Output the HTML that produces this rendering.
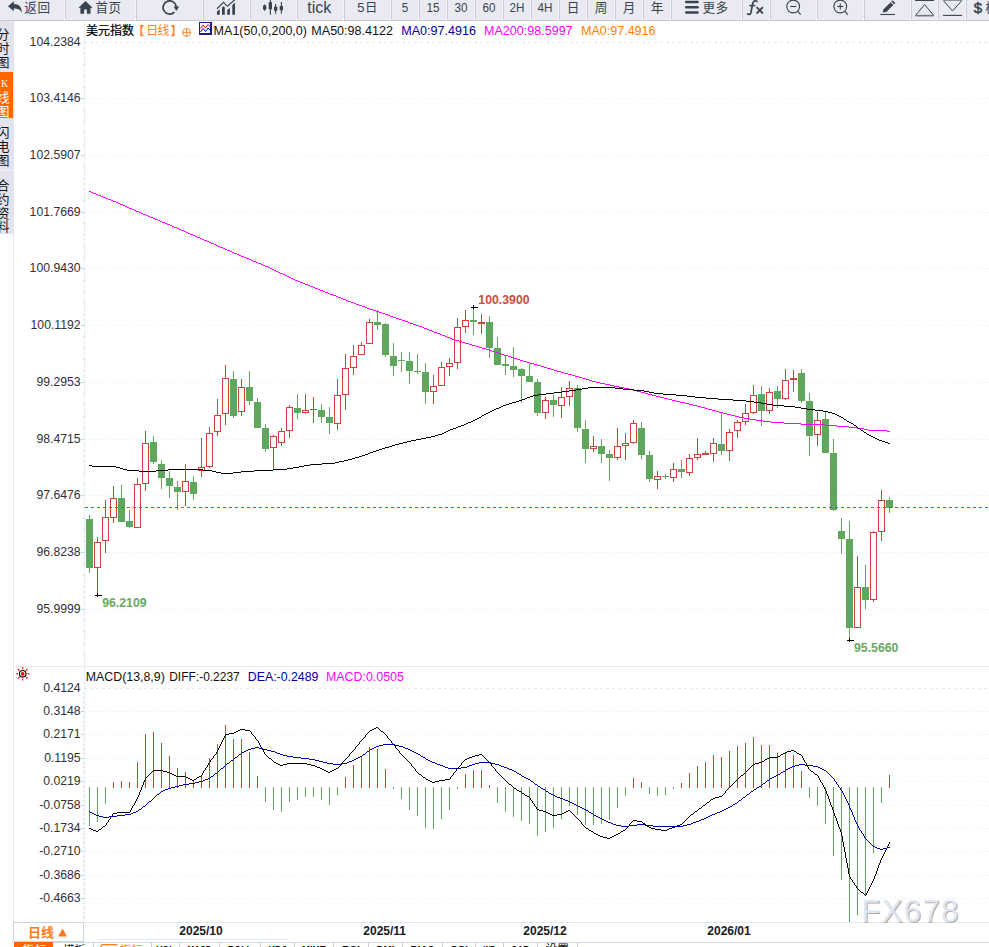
<!DOCTYPE html>
<html><head><meta charset="utf-8"><title>chart</title>
<style>
html,body{margin:0;padding:0;background:#fff;}
body{width:989px;height:947px;overflow:hidden;}
svg{display:block;font-family:"Liberation Sans","Noto Sans CJK SC",sans-serif;}
</style></head><body>
<svg width="989" height="947" viewBox="0 0 989 947">
<rect x="0" y="0" width="989" height="947" fill="#fff"/>
<rect x="0" y="0" width="989" height="20" fill="#e9eaf2"/>
<rect x="0" y="20" width="989" height="1" fill="#c8c9d3"/>
<rect x="64" y="0" width="1" height="21" fill="#f5f5fa"/>
<rect x="65" y="0" width="1" height="20" fill="#cbccd6"/>
<rect x="135" y="0" width="1" height="21" fill="#f5f5fa"/>
<rect x="136" y="0" width="1" height="20" fill="#cbccd6"/>
<rect x="202" y="0" width="1" height="21" fill="#f5f5fa"/>
<rect x="203" y="0" width="1" height="20" fill="#cbccd6"/>
<rect x="249" y="0" width="1" height="21" fill="#f5f5fa"/>
<rect x="250" y="0" width="1" height="20" fill="#cbccd6"/>
<rect x="296" y="0" width="1" height="21" fill="#f5f5fa"/>
<rect x="297" y="0" width="1" height="20" fill="#cbccd6"/>
<rect x="343" y="0" width="1" height="21" fill="#f5f5fa"/>
<rect x="344" y="0" width="1" height="20" fill="#cbccd6"/>
<rect x="390" y="0" width="1" height="21" fill="#f5f5fa"/>
<rect x="391" y="0" width="1" height="20" fill="#cbccd6"/>
<rect x="418" y="0" width="1" height="21" fill="#f5f5fa"/>
<rect x="419" y="0" width="1" height="20" fill="#cbccd6"/>
<rect x="446" y="0" width="1" height="21" fill="#f5f5fa"/>
<rect x="447" y="0" width="1" height="20" fill="#cbccd6"/>
<rect x="474" y="0" width="1" height="21" fill="#f5f5fa"/>
<rect x="475" y="0" width="1" height="20" fill="#cbccd6"/>
<rect x="502" y="0" width="1" height="21" fill="#f5f5fa"/>
<rect x="503" y="0" width="1" height="20" fill="#cbccd6"/>
<rect x="530" y="0" width="1" height="21" fill="#f5f5fa"/>
<rect x="531" y="0" width="1" height="20" fill="#cbccd6"/>
<rect x="558" y="0" width="1" height="21" fill="#f5f5fa"/>
<rect x="559" y="0" width="1" height="20" fill="#cbccd6"/>
<rect x="586" y="0" width="1" height="21" fill="#f5f5fa"/>
<rect x="587" y="0" width="1" height="20" fill="#cbccd6"/>
<rect x="614" y="0" width="1" height="21" fill="#f5f5fa"/>
<rect x="615" y="0" width="1" height="20" fill="#cbccd6"/>
<rect x="642" y="0" width="1" height="21" fill="#f5f5fa"/>
<rect x="643" y="0" width="1" height="20" fill="#cbccd6"/>
<rect x="670" y="0" width="1" height="21" fill="#f5f5fa"/>
<rect x="671" y="0" width="1" height="20" fill="#cbccd6"/>
<rect x="741" y="0" width="1" height="21" fill="#f5f5fa"/>
<rect x="742" y="0" width="1" height="20" fill="#cbccd6"/>
<rect x="769" y="0" width="1" height="21" fill="#f5f5fa"/>
<rect x="770" y="0" width="1" height="20" fill="#cbccd6"/>
<rect x="816" y="0" width="1" height="21" fill="#f5f5fa"/>
<rect x="817" y="0" width="1" height="20" fill="#cbccd6"/>
<rect x="863" y="0" width="1" height="21" fill="#f5f5fa"/>
<rect x="864" y="0" width="1" height="20" fill="#cbccd6"/>
<rect x="910" y="0" width="1" height="21" fill="#f5f5fa"/>
<rect x="911" y="0" width="1" height="20" fill="#cbccd6"/>
<rect x="937" y="0" width="1" height="21" fill="#f5f5fa"/>
<rect x="938" y="0" width="1" height="20" fill="#cbccd6"/>
<rect x="965" y="0" width="1" height="21" fill="#f5f5fa"/>
<rect x="966" y="0" width="1" height="20" fill="#cbccd6"/>
<path d="M8 6.3L13.8 1.2V4.1C18.5 4.1 22 6.8 21.8 12.9C20.6 9.6 17.8 8.5 13.8 8.5V11.3Z" fill="#3a4450"/><text x="24.30" y="12.20" font-size="12.6" fill="#3a4450" letter-spacing="0.7">返回</text><path d="M85.5 0.9L78.7 7.4L79.6 8.3L80.4 7.6V13.8H84.1V9.6H86.9V13.8H90.5V7.6L91.4 8.3L92.3 7.4Z" fill="#3a4450"/><text x="95.60" y="12.20" font-size="12.6" fill="#3a4450" letter-spacing="0.3">首页</text><path d="M174.4 12.1A6.6 6.6 0 1 1 176.3 7.2" fill="none" stroke="#3a4450" stroke-width="1.7"/><path d="M173.6 6.4H179.2L176.4 10.9Z" fill="#3a4450"/><path d="M217 11.4L219.7 9.3V14.7H217ZM222 7.2Q223.4 5.6 224.8 7.2V14.7H222ZM227.2 10L229.9 8V14.7H227.2ZM232.3 5L235 2.7V14.7H232.3Z" fill="#3a4450"/><path d="M217 8.8L223.5 2.4L227.4 6.3L234.8 -0.2" fill="none" stroke="#3a4450" stroke-width="1.2"/><path d="M263 6L264.6 4.2L266.3 6V9L264.6 11L263 9ZM268.7 2.3H272V9.3H268.7ZM274 6.7H277.3V10.7H274ZM279.7 6H283V10.3H279.7Z" fill="#3a4450"/><path d="M270.4 0V14.7M275.6 4V13.7M281.4 2V13.7" stroke="#3a4450" stroke-width="1.1" fill="none"/><text x="307.20" y="12.60" font-size="16" fill="#3a4450" text-anchor="start" font-weight="normal" >tick</text><text x="357.30" y="12.00" font-size="13" fill="#3a4450" text-anchor="start" font-weight="normal" >5</text><text x="365.00" y="12.10" font-size="12.4" fill="#3a4450">日</text><g transform="translate(405.0 12) scale(0.9 1)"><text x="0.00" y="0.00" font-size="13" fill="#3a4450" text-anchor="middle" font-weight="normal" >5</text></g><g transform="translate(433.0 12) scale(0.9 1)"><text x="0.00" y="0.00" font-size="13" fill="#3a4450" text-anchor="middle" font-weight="normal" >15</text></g><g transform="translate(461.0 12) scale(0.9 1)"><text x="0.00" y="0.00" font-size="13" fill="#3a4450" text-anchor="middle" font-weight="normal" >30</text></g><g transform="translate(489.0 12) scale(0.9 1)"><text x="0.00" y="0.00" font-size="13" fill="#3a4450" text-anchor="middle" font-weight="normal" >60</text></g><g transform="translate(517.0 12) scale(0.9 1)"><text x="0.00" y="0.00" font-size="13" fill="#3a4450" text-anchor="middle" font-weight="normal" >2H</text></g><g transform="translate(545.0 12) scale(0.9 1)"><text x="0.00" y="0.00" font-size="13" fill="#3a4450" text-anchor="middle" font-weight="normal" >4H</text></g><text x="566.70" y="12.20" font-size="12.6" fill="#3a4450">日</text><text x="594.70" y="12.20" font-size="12.6" fill="#3a4450">周</text><text x="622.70" y="12.20" font-size="12.6" fill="#3a4450">月</text><text x="650.70" y="12.20" font-size="12.6" fill="#3a4450">年</text><rect x="685" y="0.7" width="13.8" height="2.6" rx="1.3" fill="#3a4450"/><rect x="685" y="5.9" width="13.8" height="2.6" rx="1.3" fill="#3a4450"/><rect x="685" y="11.2" width="13.8" height="2.6" rx="1.3" fill="#3a4450"/><text x="702.60" y="12.40" font-size="12.6" fill="#3a4450" letter-spacing="0.4">更多</text><path d="M757 1.3C753.5 0 752.8 2.5 752.3 5.5L750.8 13C750.3 15 749 14.6 747.6 13.9" fill="none" stroke="#3a4450" stroke-width="1.7" stroke-linecap="round"/><path d="M749.3 5.6H755.3" stroke="#3a4450" stroke-width="1.5" fill="none"/><path d="M756.6 7.2L762.9 13.5M762.9 7.2L756.6 13.5" stroke="#3a4450" stroke-width="1.8" fill="none"/><circle cx="793.2" cy="6.5" r="6.4" fill="none" stroke="#3a4450" stroke-width="1.1"/><path d="M797.6 11.2L800.7 14.6" stroke="#3a4450" stroke-width="1.2" fill="none"/><path d="M790.2 6.5h6" stroke="#3a4450" stroke-width="1.1" fill="none"/><circle cx="840.3" cy="6.5" r="6.4" fill="none" stroke="#3a4450" stroke-width="1.1"/><path d="M844.7 11.2L847.8 14.6" stroke="#3a4450" stroke-width="1.2" fill="none"/><path d="M837.3 6.5h6" stroke="#3a4450" stroke-width="1.1" fill="none"/><path d="M840.3 3.5v6" stroke="#3a4450" stroke-width="1.1" fill="none"/><path d="M882.6 12.6L883.6 9.3L890.6 2.3L893.3 5L886.3 12Z" fill="#3a4450"/><path d="M891.4 1.5L892.6 0.3L895.3 3L894.1 4.2Z" fill="#3a4450"/><path d="M880.2 14.5H895" stroke="#3a4450" stroke-width="1.1" fill="none"/><rect x="915" y="0" width="19" height="1" fill="#3a4450"/><path d="M924.6 4.6L915.6 15.4H933.6Z" fill="none" stroke="#3a4450" stroke-width="1"/><rect x="915.5" y="15.4" width="18" height="1.2" fill="#8b909a"/><path d="M943.4 0.5H961.8L952.6 11Z" fill="none" stroke="#3a4450" stroke-width="1"/><rect x="943" y="0" width="19" height="1" fill="#8b909a"/><path d="M943 15.4H962" stroke="#3a4450" stroke-width="1.1" fill="none"/><text x="973.80" y="12.60" font-size="15" fill="#3a4450" text-anchor="start" font-weight="normal" stroke="#3a4450" stroke-width="0.5">$</text><text x="985.50" y="12.20" font-size="12.6" fill="#3a4450">模</text>
<rect x="0" y="21" width="14" height="213" fill="#e2e3ec"/>
<rect x="0" y="72" width="13" height="46" fill="#ff6600"/>
<rect x="0" y="170" width="14" height="1" fill="#eef0f5"/>
<rect x="13" y="234" width="1" height="708" fill="#e0e6ee"/>
<text x="-3.40" y="38.90" font-size="13" fill="#15151a">分</text><text x="-3.40" y="52.90" font-size="13" fill="#15151a">时</text><text x="-3.40" y="66.90" font-size="13" fill="#15151a">图</text><text x="-3.40" y="136.90" font-size="13" fill="#15151a">闪</text><text x="-3.40" y="150.90" font-size="13" fill="#15151a">电</text><text x="-3.40" y="164.90" font-size="13" fill="#15151a">图</text><text x="-3.40" y="189.70" font-size="13" fill="#15151a">合</text><text x="-3.40" y="203.90" font-size="13" fill="#15151a">约</text><text x="-3.40" y="217.90" font-size="13" fill="#15151a">资</text><text x="-3.40" y="231.40" font-size="13" fill="#15151a">料</text><text x="-3.40" y="102.40" font-size="13" fill="#fff">线</text><text x="-3.40" y="115.90" font-size="13" fill="#fff">图</text><text x="1.00" y="86.70" font-size="10" fill="#fff" text-anchor="start" font-weight="normal" font-family="Liberation Serif">K</text>
<rect x="84" y="21" width="1" height="902" fill="#e6ecf2"/>
<rect x="13" y="666" width="976" height="1" fill="#e5ecf1"/>
<rect x="13" y="922" width="976" height="1" fill="#e0e7ee"/>
<path d="M85 98h1M88 98h1M91 98h1M94 98h1M97 98h1M100 98h1M103 98h1M106 98h1M109 98h1M112 98h1M115 98h1M118 98h1M121 98h1M124 98h1M127 98h1M130 98h1M133 98h1M136 98h1M139 98h1M142 98h1M145 98h1M148 98h1M151 98h1M154 98h1M157 98h1M160 98h1M163 98h1M166 98h1M169 98h1M172 98h1M175 98h1M178 98h1M181 98h1M184 98h1M187 98h1M190 98h1M193 98h1M196 98h1M199 98h1M202 98h1M205 98h1M208 98h1M211 98h1M214 98h1M217 98h1M220 98h1M223 98h1M226 98h1M229 98h1M232 98h1M235 98h1M238 98h1M241 98h1M244 98h1M247 98h1M250 98h1M253 98h1M256 98h1M259 98h1M262 98h1M265 98h1M268 98h1M271 98h1M274 98h1M277 98h1M280 98h1M283 98h1M286 98h1M289 98h1M292 98h1M295 98h1M298 98h1M301 98h1M304 98h1M307 98h1M310 98h1M313 98h1M316 98h1M319 98h1M322 98h1M325 98h1M328 98h1M331 98h1M334 98h1M337 98h1M340 98h1M343 98h1M346 98h1M349 98h1M352 98h1M355 98h1M358 98h1M361 98h1M364 98h1M367 98h1M370 98h1M373 98h1M376 98h1M379 98h1M382 98h1M385 98h1M388 98h1M391 98h1M394 98h1M397 98h1M400 98h1M403 98h1M406 98h1M409 98h1M412 98h1M415 98h1M418 98h1M421 98h1M424 98h1M427 98h1M430 98h1M433 98h1M436 98h1M439 98h1M442 98h1M445 98h1M448 98h1M451 98h1M454 98h1M457 98h1M460 98h1M463 98h1M466 98h1M469 98h1M472 98h1M475 98h1M478 98h1M481 98h1M484 98h1M487 98h1M490 98h1M493 98h1M496 98h1M499 98h1M502 98h1M505 98h1M508 98h1M511 98h1M514 98h1M517 98h1M520 98h1M523 98h1M526 98h1M529 98h1M532 98h1M535 98h1M538 98h1M541 98h1M544 98h1M547 98h1M550 98h1M553 98h1M556 98h1M559 98h1M562 98h1M565 98h1M568 98h1M571 98h1M574 98h1M577 98h1M580 98h1M583 98h1M586 98h1M589 98h1M592 98h1M595 98h1M598 98h1M601 98h1M604 98h1M607 98h1M610 98h1M613 98h1M616 98h1M619 98h1M622 98h1M625 98h1M628 98h1M631 98h1M634 98h1M637 98h1M640 98h1M643 98h1M646 98h1M649 98h1M652 98h1M655 98h1M658 98h1M661 98h1M664 98h1M667 98h1M670 98h1M673 98h1M676 98h1M679 98h1M682 98h1M685 98h1M688 98h1M691 98h1M694 98h1M697 98h1M700 98h1M703 98h1M706 98h1M709 98h1M712 98h1M715 98h1M718 98h1M721 98h1M724 98h1M727 98h1M730 98h1M733 98h1M736 98h1M739 98h1M742 98h1M745 98h1M748 98h1M751 98h1M754 98h1M757 98h1M760 98h1M763 98h1M766 98h1M769 98h1M772 98h1M775 98h1M778 98h1M781 98h1M784 98h1M787 98h1M790 98h1M793 98h1M796 98h1M799 98h1M802 98h1M805 98h1M808 98h1M811 98h1M814 98h1M817 98h1M820 98h1M823 98h1M826 98h1M829 98h1M832 98h1M835 98h1M838 98h1M841 98h1M844 98h1M847 98h1M850 98h1M853 98h1M856 98h1M859 98h1M862 98h1M865 98h1M868 98h1M871 98h1M874 98h1M877 98h1M880 98h1M883 98h1M886 98h1M889 98h1M892 98h1M895 98h1M898 98h1M901 98h1M904 98h1M907 98h1M910 98h1M913 98h1M916 98h1M919 98h1M922 98h1M925 98h1M928 98h1M931 98h1M934 98h1M937 98h1M940 98h1M943 98h1M946 98h1M949 98h1M952 98h1M955 98h1M958 98h1M961 98h1M964 98h1M967 98h1M970 98h1M973 98h1M976 98h1M979 98h1M982 98h1M985 98h1M988 98h1M85 155h1M88 155h1M91 155h1M94 155h1M97 155h1M100 155h1M103 155h1M106 155h1M109 155h1M112 155h1M115 155h1M118 155h1M121 155h1M124 155h1M127 155h1M130 155h1M133 155h1M136 155h1M139 155h1M142 155h1M145 155h1M148 155h1M151 155h1M154 155h1M157 155h1M160 155h1M163 155h1M166 155h1M169 155h1M172 155h1M175 155h1M178 155h1M181 155h1M184 155h1M187 155h1M190 155h1M193 155h1M196 155h1M199 155h1M202 155h1M205 155h1M208 155h1M211 155h1M214 155h1M217 155h1M220 155h1M223 155h1M226 155h1M229 155h1M232 155h1M235 155h1M238 155h1M241 155h1M244 155h1M247 155h1M250 155h1M253 155h1M256 155h1M259 155h1M262 155h1M265 155h1M268 155h1M271 155h1M274 155h1M277 155h1M280 155h1M283 155h1M286 155h1M289 155h1M292 155h1M295 155h1M298 155h1M301 155h1M304 155h1M307 155h1M310 155h1M313 155h1M316 155h1M319 155h1M322 155h1M325 155h1M328 155h1M331 155h1M334 155h1M337 155h1M340 155h1M343 155h1M346 155h1M349 155h1M352 155h1M355 155h1M358 155h1M361 155h1M364 155h1M367 155h1M370 155h1M373 155h1M376 155h1M379 155h1M382 155h1M385 155h1M388 155h1M391 155h1M394 155h1M397 155h1M400 155h1M403 155h1M406 155h1M409 155h1M412 155h1M415 155h1M418 155h1M421 155h1M424 155h1M427 155h1M430 155h1M433 155h1M436 155h1M439 155h1M442 155h1M445 155h1M448 155h1M451 155h1M454 155h1M457 155h1M460 155h1M463 155h1M466 155h1M469 155h1M472 155h1M475 155h1M478 155h1M481 155h1M484 155h1M487 155h1M490 155h1M493 155h1M496 155h1M499 155h1M502 155h1M505 155h1M508 155h1M511 155h1M514 155h1M517 155h1M520 155h1M523 155h1M526 155h1M529 155h1M532 155h1M535 155h1M538 155h1M541 155h1M544 155h1M547 155h1M550 155h1M553 155h1M556 155h1M559 155h1M562 155h1M565 155h1M568 155h1M571 155h1M574 155h1M577 155h1M580 155h1M583 155h1M586 155h1M589 155h1M592 155h1M595 155h1M598 155h1M601 155h1M604 155h1M607 155h1M610 155h1M613 155h1M616 155h1M619 155h1M622 155h1M625 155h1M628 155h1M631 155h1M634 155h1M637 155h1M640 155h1M643 155h1M646 155h1M649 155h1M652 155h1M655 155h1M658 155h1M661 155h1M664 155h1M667 155h1M670 155h1M673 155h1M676 155h1M679 155h1M682 155h1M685 155h1M688 155h1M691 155h1M694 155h1M697 155h1M700 155h1M703 155h1M706 155h1M709 155h1M712 155h1M715 155h1M718 155h1M721 155h1M724 155h1M727 155h1M730 155h1M733 155h1M736 155h1M739 155h1M742 155h1M745 155h1M748 155h1M751 155h1M754 155h1M757 155h1M760 155h1M763 155h1M766 155h1M769 155h1M772 155h1M775 155h1M778 155h1M781 155h1M784 155h1M787 155h1M790 155h1M793 155h1M796 155h1M799 155h1M802 155h1M805 155h1M808 155h1M811 155h1M814 155h1M817 155h1M820 155h1M823 155h1M826 155h1M829 155h1M832 155h1M835 155h1M838 155h1M841 155h1M844 155h1M847 155h1M850 155h1M853 155h1M856 155h1M859 155h1M862 155h1M865 155h1M868 155h1M871 155h1M874 155h1M877 155h1M880 155h1M883 155h1M886 155h1M889 155h1M892 155h1M895 155h1M898 155h1M901 155h1M904 155h1M907 155h1M910 155h1M913 155h1M916 155h1M919 155h1M922 155h1M925 155h1M928 155h1M931 155h1M934 155h1M937 155h1M940 155h1M943 155h1M946 155h1M949 155h1M952 155h1M955 155h1M958 155h1M961 155h1M964 155h1M967 155h1M970 155h1M973 155h1M976 155h1M979 155h1M982 155h1M985 155h1M988 155h1M85 212h1M88 212h1M91 212h1M94 212h1M97 212h1M100 212h1M103 212h1M106 212h1M109 212h1M112 212h1M115 212h1M118 212h1M121 212h1M124 212h1M127 212h1M130 212h1M133 212h1M136 212h1M139 212h1M142 212h1M145 212h1M148 212h1M151 212h1M154 212h1M157 212h1M160 212h1M163 212h1M166 212h1M169 212h1M172 212h1M175 212h1M178 212h1M181 212h1M184 212h1M187 212h1M190 212h1M193 212h1M196 212h1M199 212h1M202 212h1M205 212h1M208 212h1M211 212h1M214 212h1M217 212h1M220 212h1M223 212h1M226 212h1M229 212h1M232 212h1M235 212h1M238 212h1M241 212h1M244 212h1M247 212h1M250 212h1M253 212h1M256 212h1M259 212h1M262 212h1M265 212h1M268 212h1M271 212h1M274 212h1M277 212h1M280 212h1M283 212h1M286 212h1M289 212h1M292 212h1M295 212h1M298 212h1M301 212h1M304 212h1M307 212h1M310 212h1M313 212h1M316 212h1M319 212h1M322 212h1M325 212h1M328 212h1M331 212h1M334 212h1M337 212h1M340 212h1M343 212h1M346 212h1M349 212h1M352 212h1M355 212h1M358 212h1M361 212h1M364 212h1M367 212h1M370 212h1M373 212h1M376 212h1M379 212h1M382 212h1M385 212h1M388 212h1M391 212h1M394 212h1M397 212h1M400 212h1M403 212h1M406 212h1M409 212h1M412 212h1M415 212h1M418 212h1M421 212h1M424 212h1M427 212h1M430 212h1M433 212h1M436 212h1M439 212h1M442 212h1M445 212h1M448 212h1M451 212h1M454 212h1M457 212h1M460 212h1M463 212h1M466 212h1M469 212h1M472 212h1M475 212h1M478 212h1M481 212h1M484 212h1M487 212h1M490 212h1M493 212h1M496 212h1M499 212h1M502 212h1M505 212h1M508 212h1M511 212h1M514 212h1M517 212h1M520 212h1M523 212h1M526 212h1M529 212h1M532 212h1M535 212h1M538 212h1M541 212h1M544 212h1M547 212h1M550 212h1M553 212h1M556 212h1M559 212h1M562 212h1M565 212h1M568 212h1M571 212h1M574 212h1M577 212h1M580 212h1M583 212h1M586 212h1M589 212h1M592 212h1M595 212h1M598 212h1M601 212h1M604 212h1M607 212h1M610 212h1M613 212h1M616 212h1M619 212h1M622 212h1M625 212h1M628 212h1M631 212h1M634 212h1M637 212h1M640 212h1M643 212h1M646 212h1M649 212h1M652 212h1M655 212h1M658 212h1M661 212h1M664 212h1M667 212h1M670 212h1M673 212h1M676 212h1M679 212h1M682 212h1M685 212h1M688 212h1M691 212h1M694 212h1M697 212h1M700 212h1M703 212h1M706 212h1M709 212h1M712 212h1M715 212h1M718 212h1M721 212h1M724 212h1M727 212h1M730 212h1M733 212h1M736 212h1M739 212h1M742 212h1M745 212h1M748 212h1M751 212h1M754 212h1M757 212h1M760 212h1M763 212h1M766 212h1M769 212h1M772 212h1M775 212h1M778 212h1M781 212h1M784 212h1M787 212h1M790 212h1M793 212h1M796 212h1M799 212h1M802 212h1M805 212h1M808 212h1M811 212h1M814 212h1M817 212h1M820 212h1M823 212h1M826 212h1M829 212h1M832 212h1M835 212h1M838 212h1M841 212h1M844 212h1M847 212h1M850 212h1M853 212h1M856 212h1M859 212h1M862 212h1M865 212h1M868 212h1M871 212h1M874 212h1M877 212h1M880 212h1M883 212h1M886 212h1M889 212h1M892 212h1M895 212h1M898 212h1M901 212h1M904 212h1M907 212h1M910 212h1M913 212h1M916 212h1M919 212h1M922 212h1M925 212h1M928 212h1M931 212h1M934 212h1M937 212h1M940 212h1M943 212h1M946 212h1M949 212h1M952 212h1M955 212h1M958 212h1M961 212h1M964 212h1M967 212h1M970 212h1M973 212h1M976 212h1M979 212h1M982 212h1M985 212h1M988 212h1M85 268h1M88 268h1M91 268h1M94 268h1M97 268h1M100 268h1M103 268h1M106 268h1M109 268h1M112 268h1M115 268h1M118 268h1M121 268h1M124 268h1M127 268h1M130 268h1M133 268h1M136 268h1M139 268h1M142 268h1M145 268h1M148 268h1M151 268h1M154 268h1M157 268h1M160 268h1M163 268h1M166 268h1M169 268h1M172 268h1M175 268h1M178 268h1M181 268h1M184 268h1M187 268h1M190 268h1M193 268h1M196 268h1M199 268h1M202 268h1M205 268h1M208 268h1M211 268h1M214 268h1M217 268h1M220 268h1M223 268h1M226 268h1M229 268h1M232 268h1M235 268h1M238 268h1M241 268h1M244 268h1M247 268h1M250 268h1M253 268h1M256 268h1M259 268h1M262 268h1M265 268h1M268 268h1M271 268h1M274 268h1M277 268h1M280 268h1M283 268h1M286 268h1M289 268h1M292 268h1M295 268h1M298 268h1M301 268h1M304 268h1M307 268h1M310 268h1M313 268h1M316 268h1M319 268h1M322 268h1M325 268h1M328 268h1M331 268h1M334 268h1M337 268h1M340 268h1M343 268h1M346 268h1M349 268h1M352 268h1M355 268h1M358 268h1M361 268h1M364 268h1M367 268h1M370 268h1M373 268h1M376 268h1M379 268h1M382 268h1M385 268h1M388 268h1M391 268h1M394 268h1M397 268h1M400 268h1M403 268h1M406 268h1M409 268h1M412 268h1M415 268h1M418 268h1M421 268h1M424 268h1M427 268h1M430 268h1M433 268h1M436 268h1M439 268h1M442 268h1M445 268h1M448 268h1M451 268h1M454 268h1M457 268h1M460 268h1M463 268h1M466 268h1M469 268h1M472 268h1M475 268h1M478 268h1M481 268h1M484 268h1M487 268h1M490 268h1M493 268h1M496 268h1M499 268h1M502 268h1M505 268h1M508 268h1M511 268h1M514 268h1M517 268h1M520 268h1M523 268h1M526 268h1M529 268h1M532 268h1M535 268h1M538 268h1M541 268h1M544 268h1M547 268h1M550 268h1M553 268h1M556 268h1M559 268h1M562 268h1M565 268h1M568 268h1M571 268h1M574 268h1M577 268h1M580 268h1M583 268h1M586 268h1M589 268h1M592 268h1M595 268h1M598 268h1M601 268h1M604 268h1M607 268h1M610 268h1M613 268h1M616 268h1M619 268h1M622 268h1M625 268h1M628 268h1M631 268h1M634 268h1M637 268h1M640 268h1M643 268h1M646 268h1M649 268h1M652 268h1M655 268h1M658 268h1M661 268h1M664 268h1M667 268h1M670 268h1M673 268h1M676 268h1M679 268h1M682 268h1M685 268h1M688 268h1M691 268h1M694 268h1M697 268h1M700 268h1M703 268h1M706 268h1M709 268h1M712 268h1M715 268h1M718 268h1M721 268h1M724 268h1M727 268h1M730 268h1M733 268h1M736 268h1M739 268h1M742 268h1M745 268h1M748 268h1M751 268h1M754 268h1M757 268h1M760 268h1M763 268h1M766 268h1M769 268h1M772 268h1M775 268h1M778 268h1M781 268h1M784 268h1M787 268h1M790 268h1M793 268h1M796 268h1M799 268h1M802 268h1M805 268h1M808 268h1M811 268h1M814 268h1M817 268h1M820 268h1M823 268h1M826 268h1M829 268h1M832 268h1M835 268h1M838 268h1M841 268h1M844 268h1M847 268h1M850 268h1M853 268h1M856 268h1M859 268h1M862 268h1M865 268h1M868 268h1M871 268h1M874 268h1M877 268h1M880 268h1M883 268h1M886 268h1M889 268h1M892 268h1M895 268h1M898 268h1M901 268h1M904 268h1M907 268h1M910 268h1M913 268h1M916 268h1M919 268h1M922 268h1M925 268h1M928 268h1M931 268h1M934 268h1M937 268h1M940 268h1M943 268h1M946 268h1M949 268h1M952 268h1M955 268h1M958 268h1M961 268h1M964 268h1M967 268h1M970 268h1M973 268h1M976 268h1M979 268h1M982 268h1M985 268h1M988 268h1M85 325h1M88 325h1M91 325h1M94 325h1M97 325h1M100 325h1M103 325h1M106 325h1M109 325h1M112 325h1M115 325h1M118 325h1M121 325h1M124 325h1M127 325h1M130 325h1M133 325h1M136 325h1M139 325h1M142 325h1M145 325h1M148 325h1M151 325h1M154 325h1M157 325h1M160 325h1M163 325h1M166 325h1M169 325h1M172 325h1M175 325h1M178 325h1M181 325h1M184 325h1M187 325h1M190 325h1M193 325h1M196 325h1M199 325h1M202 325h1M205 325h1M208 325h1M211 325h1M214 325h1M217 325h1M220 325h1M223 325h1M226 325h1M229 325h1M232 325h1M235 325h1M238 325h1M241 325h1M244 325h1M247 325h1M250 325h1M253 325h1M256 325h1M259 325h1M262 325h1M265 325h1M268 325h1M271 325h1M274 325h1M277 325h1M280 325h1M283 325h1M286 325h1M289 325h1M292 325h1M295 325h1M298 325h1M301 325h1M304 325h1M307 325h1M310 325h1M313 325h1M316 325h1M319 325h1M322 325h1M325 325h1M328 325h1M331 325h1M334 325h1M337 325h1M340 325h1M343 325h1M346 325h1M349 325h1M352 325h1M355 325h1M358 325h1M361 325h1M364 325h1M367 325h1M370 325h1M373 325h1M376 325h1M379 325h1M382 325h1M385 325h1M388 325h1M391 325h1M394 325h1M397 325h1M400 325h1M403 325h1M406 325h1M409 325h1M412 325h1M415 325h1M418 325h1M421 325h1M424 325h1M427 325h1M430 325h1M433 325h1M436 325h1M439 325h1M442 325h1M445 325h1M448 325h1M451 325h1M454 325h1M457 325h1M460 325h1M463 325h1M466 325h1M469 325h1M472 325h1M475 325h1M478 325h1M481 325h1M484 325h1M487 325h1M490 325h1M493 325h1M496 325h1M499 325h1M502 325h1M505 325h1M508 325h1M511 325h1M514 325h1M517 325h1M520 325h1M523 325h1M526 325h1M529 325h1M532 325h1M535 325h1M538 325h1M541 325h1M544 325h1M547 325h1M550 325h1M553 325h1M556 325h1M559 325h1M562 325h1M565 325h1M568 325h1M571 325h1M574 325h1M577 325h1M580 325h1M583 325h1M586 325h1M589 325h1M592 325h1M595 325h1M598 325h1M601 325h1M604 325h1M607 325h1M610 325h1M613 325h1M616 325h1M619 325h1M622 325h1M625 325h1M628 325h1M631 325h1M634 325h1M637 325h1M640 325h1M643 325h1M646 325h1M649 325h1M652 325h1M655 325h1M658 325h1M661 325h1M664 325h1M667 325h1M670 325h1M673 325h1M676 325h1M679 325h1M682 325h1M685 325h1M688 325h1M691 325h1M694 325h1M697 325h1M700 325h1M703 325h1M706 325h1M709 325h1M712 325h1M715 325h1M718 325h1M721 325h1M724 325h1M727 325h1M730 325h1M733 325h1M736 325h1M739 325h1M742 325h1M745 325h1M748 325h1M751 325h1M754 325h1M757 325h1M760 325h1M763 325h1M766 325h1M769 325h1M772 325h1M775 325h1M778 325h1M781 325h1M784 325h1M787 325h1M790 325h1M793 325h1M796 325h1M799 325h1M802 325h1M805 325h1M808 325h1M811 325h1M814 325h1M817 325h1M820 325h1M823 325h1M826 325h1M829 325h1M832 325h1M835 325h1M838 325h1M841 325h1M844 325h1M847 325h1M850 325h1M853 325h1M856 325h1M859 325h1M862 325h1M865 325h1M868 325h1M871 325h1M874 325h1M877 325h1M880 325h1M883 325h1M886 325h1M889 325h1M892 325h1M895 325h1M898 325h1M901 325h1M904 325h1M907 325h1M910 325h1M913 325h1M916 325h1M919 325h1M922 325h1M925 325h1M928 325h1M931 325h1M934 325h1M937 325h1M940 325h1M943 325h1M946 325h1M949 325h1M952 325h1M955 325h1M958 325h1M961 325h1M964 325h1M967 325h1M970 325h1M973 325h1M976 325h1M979 325h1M982 325h1M985 325h1M988 325h1M85 382h1M88 382h1M91 382h1M94 382h1M97 382h1M100 382h1M103 382h1M106 382h1M109 382h1M112 382h1M115 382h1M118 382h1M121 382h1M124 382h1M127 382h1M130 382h1M133 382h1M136 382h1M139 382h1M142 382h1M145 382h1M148 382h1M151 382h1M154 382h1M157 382h1M160 382h1M163 382h1M166 382h1M169 382h1M172 382h1M175 382h1M178 382h1M181 382h1M184 382h1M187 382h1M190 382h1M193 382h1M196 382h1M199 382h1M202 382h1M205 382h1M208 382h1M211 382h1M214 382h1M217 382h1M220 382h1M223 382h1M226 382h1M229 382h1M232 382h1M235 382h1M238 382h1M241 382h1M244 382h1M247 382h1M250 382h1M253 382h1M256 382h1M259 382h1M262 382h1M265 382h1M268 382h1M271 382h1M274 382h1M277 382h1M280 382h1M283 382h1M286 382h1M289 382h1M292 382h1M295 382h1M298 382h1M301 382h1M304 382h1M307 382h1M310 382h1M313 382h1M316 382h1M319 382h1M322 382h1M325 382h1M328 382h1M331 382h1M334 382h1M337 382h1M340 382h1M343 382h1M346 382h1M349 382h1M352 382h1M355 382h1M358 382h1M361 382h1M364 382h1M367 382h1M370 382h1M373 382h1M376 382h1M379 382h1M382 382h1M385 382h1M388 382h1M391 382h1M394 382h1M397 382h1M400 382h1M403 382h1M406 382h1M409 382h1M412 382h1M415 382h1M418 382h1M421 382h1M424 382h1M427 382h1M430 382h1M433 382h1M436 382h1M439 382h1M442 382h1M445 382h1M448 382h1M451 382h1M454 382h1M457 382h1M460 382h1M463 382h1M466 382h1M469 382h1M472 382h1M475 382h1M478 382h1M481 382h1M484 382h1M487 382h1M490 382h1M493 382h1M496 382h1M499 382h1M502 382h1M505 382h1M508 382h1M511 382h1M514 382h1M517 382h1M520 382h1M523 382h1M526 382h1M529 382h1M532 382h1M535 382h1M538 382h1M541 382h1M544 382h1M547 382h1M550 382h1M553 382h1M556 382h1M559 382h1M562 382h1M565 382h1M568 382h1M571 382h1M574 382h1M577 382h1M580 382h1M583 382h1M586 382h1M589 382h1M592 382h1M595 382h1M598 382h1M601 382h1M604 382h1M607 382h1M610 382h1M613 382h1M616 382h1M619 382h1M622 382h1M625 382h1M628 382h1M631 382h1M634 382h1M637 382h1M640 382h1M643 382h1M646 382h1M649 382h1M652 382h1M655 382h1M658 382h1M661 382h1M664 382h1M667 382h1M670 382h1M673 382h1M676 382h1M679 382h1M682 382h1M685 382h1M688 382h1M691 382h1M694 382h1M697 382h1M700 382h1M703 382h1M706 382h1M709 382h1M712 382h1M715 382h1M718 382h1M721 382h1M724 382h1M727 382h1M730 382h1M733 382h1M736 382h1M739 382h1M742 382h1M745 382h1M748 382h1M751 382h1M754 382h1M757 382h1M760 382h1M763 382h1M766 382h1M769 382h1M772 382h1M775 382h1M778 382h1M781 382h1M784 382h1M787 382h1M790 382h1M793 382h1M796 382h1M799 382h1M802 382h1M805 382h1M808 382h1M811 382h1M814 382h1M817 382h1M820 382h1M823 382h1M826 382h1M829 382h1M832 382h1M835 382h1M838 382h1M841 382h1M844 382h1M847 382h1M850 382h1M853 382h1M856 382h1M859 382h1M862 382h1M865 382h1M868 382h1M871 382h1M874 382h1M877 382h1M880 382h1M883 382h1M886 382h1M889 382h1M892 382h1M895 382h1M898 382h1M901 382h1M904 382h1M907 382h1M910 382h1M913 382h1M916 382h1M919 382h1M922 382h1M925 382h1M928 382h1M931 382h1M934 382h1M937 382h1M940 382h1M943 382h1M946 382h1M949 382h1M952 382h1M955 382h1M958 382h1M961 382h1M964 382h1M967 382h1M970 382h1M973 382h1M976 382h1M979 382h1M982 382h1M985 382h1M988 382h1M85 439h1M88 439h1M91 439h1M94 439h1M97 439h1M100 439h1M103 439h1M106 439h1M109 439h1M112 439h1M115 439h1M118 439h1M121 439h1M124 439h1M127 439h1M130 439h1M133 439h1M136 439h1M139 439h1M142 439h1M145 439h1M148 439h1M151 439h1M154 439h1M157 439h1M160 439h1M163 439h1M166 439h1M169 439h1M172 439h1M175 439h1M178 439h1M181 439h1M184 439h1M187 439h1M190 439h1M193 439h1M196 439h1M199 439h1M202 439h1M205 439h1M208 439h1M211 439h1M214 439h1M217 439h1M220 439h1M223 439h1M226 439h1M229 439h1M232 439h1M235 439h1M238 439h1M241 439h1M244 439h1M247 439h1M250 439h1M253 439h1M256 439h1M259 439h1M262 439h1M265 439h1M268 439h1M271 439h1M274 439h1M277 439h1M280 439h1M283 439h1M286 439h1M289 439h1M292 439h1M295 439h1M298 439h1M301 439h1M304 439h1M307 439h1M310 439h1M313 439h1M316 439h1M319 439h1M322 439h1M325 439h1M328 439h1M331 439h1M334 439h1M337 439h1M340 439h1M343 439h1M346 439h1M349 439h1M352 439h1M355 439h1M358 439h1M361 439h1M364 439h1M367 439h1M370 439h1M373 439h1M376 439h1M379 439h1M382 439h1M385 439h1M388 439h1M391 439h1M394 439h1M397 439h1M400 439h1M403 439h1M406 439h1M409 439h1M412 439h1M415 439h1M418 439h1M421 439h1M424 439h1M427 439h1M430 439h1M433 439h1M436 439h1M439 439h1M442 439h1M445 439h1M448 439h1M451 439h1M454 439h1M457 439h1M460 439h1M463 439h1M466 439h1M469 439h1M472 439h1M475 439h1M478 439h1M481 439h1M484 439h1M487 439h1M490 439h1M493 439h1M496 439h1M499 439h1M502 439h1M505 439h1M508 439h1M511 439h1M514 439h1M517 439h1M520 439h1M523 439h1M526 439h1M529 439h1M532 439h1M535 439h1M538 439h1M541 439h1M544 439h1M547 439h1M550 439h1M553 439h1M556 439h1M559 439h1M562 439h1M565 439h1M568 439h1M571 439h1M574 439h1M577 439h1M580 439h1M583 439h1M586 439h1M589 439h1M592 439h1M595 439h1M598 439h1M601 439h1M604 439h1M607 439h1M610 439h1M613 439h1M616 439h1M619 439h1M622 439h1M625 439h1M628 439h1M631 439h1M634 439h1M637 439h1M640 439h1M643 439h1M646 439h1M649 439h1M652 439h1M655 439h1M658 439h1M661 439h1M664 439h1M667 439h1M670 439h1M673 439h1M676 439h1M679 439h1M682 439h1M685 439h1M688 439h1M691 439h1M694 439h1M697 439h1M700 439h1M703 439h1M706 439h1M709 439h1M712 439h1M715 439h1M718 439h1M721 439h1M724 439h1M727 439h1M730 439h1M733 439h1M736 439h1M739 439h1M742 439h1M745 439h1M748 439h1M751 439h1M754 439h1M757 439h1M760 439h1M763 439h1M766 439h1M769 439h1M772 439h1M775 439h1M778 439h1M781 439h1M784 439h1M787 439h1M790 439h1M793 439h1M796 439h1M799 439h1M802 439h1M805 439h1M808 439h1M811 439h1M814 439h1M817 439h1M820 439h1M823 439h1M826 439h1M829 439h1M832 439h1M835 439h1M838 439h1M841 439h1M844 439h1M847 439h1M850 439h1M853 439h1M856 439h1M859 439h1M862 439h1M865 439h1M868 439h1M871 439h1M874 439h1M877 439h1M880 439h1M883 439h1M886 439h1M889 439h1M892 439h1M895 439h1M898 439h1M901 439h1M904 439h1M907 439h1M910 439h1M913 439h1M916 439h1M919 439h1M922 439h1M925 439h1M928 439h1M931 439h1M934 439h1M937 439h1M940 439h1M943 439h1M946 439h1M949 439h1M952 439h1M955 439h1M958 439h1M961 439h1M964 439h1M967 439h1M970 439h1M973 439h1M976 439h1M979 439h1M982 439h1M985 439h1M988 439h1M85 495h1M88 495h1M91 495h1M94 495h1M97 495h1M100 495h1M103 495h1M106 495h1M109 495h1M112 495h1M115 495h1M118 495h1M121 495h1M124 495h1M127 495h1M130 495h1M133 495h1M136 495h1M139 495h1M142 495h1M145 495h1M148 495h1M151 495h1M154 495h1M157 495h1M160 495h1M163 495h1M166 495h1M169 495h1M172 495h1M175 495h1M178 495h1M181 495h1M184 495h1M187 495h1M190 495h1M193 495h1M196 495h1M199 495h1M202 495h1M205 495h1M208 495h1M211 495h1M214 495h1M217 495h1M220 495h1M223 495h1M226 495h1M229 495h1M232 495h1M235 495h1M238 495h1M241 495h1M244 495h1M247 495h1M250 495h1M253 495h1M256 495h1M259 495h1M262 495h1M265 495h1M268 495h1M271 495h1M274 495h1M277 495h1M280 495h1M283 495h1M286 495h1M289 495h1M292 495h1M295 495h1M298 495h1M301 495h1M304 495h1M307 495h1M310 495h1M313 495h1M316 495h1M319 495h1M322 495h1M325 495h1M328 495h1M331 495h1M334 495h1M337 495h1M340 495h1M343 495h1M346 495h1M349 495h1M352 495h1M355 495h1M358 495h1M361 495h1M364 495h1M367 495h1M370 495h1M373 495h1M376 495h1M379 495h1M382 495h1M385 495h1M388 495h1M391 495h1M394 495h1M397 495h1M400 495h1M403 495h1M406 495h1M409 495h1M412 495h1M415 495h1M418 495h1M421 495h1M424 495h1M427 495h1M430 495h1M433 495h1M436 495h1M439 495h1M442 495h1M445 495h1M448 495h1M451 495h1M454 495h1M457 495h1M460 495h1M463 495h1M466 495h1M469 495h1M472 495h1M475 495h1M478 495h1M481 495h1M484 495h1M487 495h1M490 495h1M493 495h1M496 495h1M499 495h1M502 495h1M505 495h1M508 495h1M511 495h1M514 495h1M517 495h1M520 495h1M523 495h1M526 495h1M529 495h1M532 495h1M535 495h1M538 495h1M541 495h1M544 495h1M547 495h1M550 495h1M553 495h1M556 495h1M559 495h1M562 495h1M565 495h1M568 495h1M571 495h1M574 495h1M577 495h1M580 495h1M583 495h1M586 495h1M589 495h1M592 495h1M595 495h1M598 495h1M601 495h1M604 495h1M607 495h1M610 495h1M613 495h1M616 495h1M619 495h1M622 495h1M625 495h1M628 495h1M631 495h1M634 495h1M637 495h1M640 495h1M643 495h1M646 495h1M649 495h1M652 495h1M655 495h1M658 495h1M661 495h1M664 495h1M667 495h1M670 495h1M673 495h1M676 495h1M679 495h1M682 495h1M685 495h1M688 495h1M691 495h1M694 495h1M697 495h1M700 495h1M703 495h1M706 495h1M709 495h1M712 495h1M715 495h1M718 495h1M721 495h1M724 495h1M727 495h1M730 495h1M733 495h1M736 495h1M739 495h1M742 495h1M745 495h1M748 495h1M751 495h1M754 495h1M757 495h1M760 495h1M763 495h1M766 495h1M769 495h1M772 495h1M775 495h1M778 495h1M781 495h1M784 495h1M787 495h1M790 495h1M793 495h1M796 495h1M799 495h1M802 495h1M805 495h1M808 495h1M811 495h1M814 495h1M817 495h1M820 495h1M823 495h1M826 495h1M829 495h1M832 495h1M835 495h1M838 495h1M841 495h1M844 495h1M847 495h1M850 495h1M853 495h1M856 495h1M859 495h1M862 495h1M865 495h1M868 495h1M871 495h1M874 495h1M877 495h1M880 495h1M883 495h1M886 495h1M889 495h1M892 495h1M895 495h1M898 495h1M901 495h1M904 495h1M907 495h1M910 495h1M913 495h1M916 495h1M919 495h1M922 495h1M925 495h1M928 495h1M931 495h1M934 495h1M937 495h1M940 495h1M943 495h1M946 495h1M949 495h1M952 495h1M955 495h1M958 495h1M961 495h1M964 495h1M967 495h1M970 495h1M973 495h1M976 495h1M979 495h1M982 495h1M985 495h1M988 495h1M85 552h1M88 552h1M91 552h1M94 552h1M97 552h1M100 552h1M103 552h1M106 552h1M109 552h1M112 552h1M115 552h1M118 552h1M121 552h1M124 552h1M127 552h1M130 552h1M133 552h1M136 552h1M139 552h1M142 552h1M145 552h1M148 552h1M151 552h1M154 552h1M157 552h1M160 552h1M163 552h1M166 552h1M169 552h1M172 552h1M175 552h1M178 552h1M181 552h1M184 552h1M187 552h1M190 552h1M193 552h1M196 552h1M199 552h1M202 552h1M205 552h1M208 552h1M211 552h1M214 552h1M217 552h1M220 552h1M223 552h1M226 552h1M229 552h1M232 552h1M235 552h1M238 552h1M241 552h1M244 552h1M247 552h1M250 552h1M253 552h1M256 552h1M259 552h1M262 552h1M265 552h1M268 552h1M271 552h1M274 552h1M277 552h1M280 552h1M283 552h1M286 552h1M289 552h1M292 552h1M295 552h1M298 552h1M301 552h1M304 552h1M307 552h1M310 552h1M313 552h1M316 552h1M319 552h1M322 552h1M325 552h1M328 552h1M331 552h1M334 552h1M337 552h1M340 552h1M343 552h1M346 552h1M349 552h1M352 552h1M355 552h1M358 552h1M361 552h1M364 552h1M367 552h1M370 552h1M373 552h1M376 552h1M379 552h1M382 552h1M385 552h1M388 552h1M391 552h1M394 552h1M397 552h1M400 552h1M403 552h1M406 552h1M409 552h1M412 552h1M415 552h1M418 552h1M421 552h1M424 552h1M427 552h1M430 552h1M433 552h1M436 552h1M439 552h1M442 552h1M445 552h1M448 552h1M451 552h1M454 552h1M457 552h1M460 552h1M463 552h1M466 552h1M469 552h1M472 552h1M475 552h1M478 552h1M481 552h1M484 552h1M487 552h1M490 552h1M493 552h1M496 552h1M499 552h1M502 552h1M505 552h1M508 552h1M511 552h1M514 552h1M517 552h1M520 552h1M523 552h1M526 552h1M529 552h1M532 552h1M535 552h1M538 552h1M541 552h1M544 552h1M547 552h1M550 552h1M553 552h1M556 552h1M559 552h1M562 552h1M565 552h1M568 552h1M571 552h1M574 552h1M577 552h1M580 552h1M583 552h1M586 552h1M589 552h1M592 552h1M595 552h1M598 552h1M601 552h1M604 552h1M607 552h1M610 552h1M613 552h1M616 552h1M619 552h1M622 552h1M625 552h1M628 552h1M631 552h1M634 552h1M637 552h1M640 552h1M643 552h1M646 552h1M649 552h1M652 552h1M655 552h1M658 552h1M661 552h1M664 552h1M667 552h1M670 552h1M673 552h1M676 552h1M679 552h1M682 552h1M685 552h1M688 552h1M691 552h1M694 552h1M697 552h1M700 552h1M703 552h1M706 552h1M709 552h1M712 552h1M715 552h1M718 552h1M721 552h1M724 552h1M727 552h1M730 552h1M733 552h1M736 552h1M739 552h1M742 552h1M745 552h1M748 552h1M751 552h1M754 552h1M757 552h1M760 552h1M763 552h1M766 552h1M769 552h1M772 552h1M775 552h1M778 552h1M781 552h1M784 552h1M787 552h1M790 552h1M793 552h1M796 552h1M799 552h1M802 552h1M805 552h1M808 552h1M811 552h1M814 552h1M817 552h1M820 552h1M823 552h1M826 552h1M829 552h1M832 552h1M835 552h1M838 552h1M841 552h1M844 552h1M847 552h1M850 552h1M853 552h1M856 552h1M859 552h1M862 552h1M865 552h1M868 552h1M871 552h1M874 552h1M877 552h1M880 552h1M883 552h1M886 552h1M889 552h1M892 552h1M895 552h1M898 552h1M901 552h1M904 552h1M907 552h1M910 552h1M913 552h1M916 552h1M919 552h1M922 552h1M925 552h1M928 552h1M931 552h1M934 552h1M937 552h1M940 552h1M943 552h1M946 552h1M949 552h1M952 552h1M955 552h1M958 552h1M961 552h1M964 552h1M967 552h1M970 552h1M973 552h1M976 552h1M979 552h1M982 552h1M985 552h1M988 552h1M85 609h1M88 609h1M91 609h1M94 609h1M97 609h1M100 609h1M103 609h1M106 609h1M109 609h1M112 609h1M115 609h1M118 609h1M121 609h1M124 609h1M127 609h1M130 609h1M133 609h1M136 609h1M139 609h1M142 609h1M145 609h1M148 609h1M151 609h1M154 609h1M157 609h1M160 609h1M163 609h1M166 609h1M169 609h1M172 609h1M175 609h1M178 609h1M181 609h1M184 609h1M187 609h1M190 609h1M193 609h1M196 609h1M199 609h1M202 609h1M205 609h1M208 609h1M211 609h1M214 609h1M217 609h1M220 609h1M223 609h1M226 609h1M229 609h1M232 609h1M235 609h1M238 609h1M241 609h1M244 609h1M247 609h1M250 609h1M253 609h1M256 609h1M259 609h1M262 609h1M265 609h1M268 609h1M271 609h1M274 609h1M277 609h1M280 609h1M283 609h1M286 609h1M289 609h1M292 609h1M295 609h1M298 609h1M301 609h1M304 609h1M307 609h1M310 609h1M313 609h1M316 609h1M319 609h1M322 609h1M325 609h1M328 609h1M331 609h1M334 609h1M337 609h1M340 609h1M343 609h1M346 609h1M349 609h1M352 609h1M355 609h1M358 609h1M361 609h1M364 609h1M367 609h1M370 609h1M373 609h1M376 609h1M379 609h1M382 609h1M385 609h1M388 609h1M391 609h1M394 609h1M397 609h1M400 609h1M403 609h1M406 609h1M409 609h1M412 609h1M415 609h1M418 609h1M421 609h1M424 609h1M427 609h1M430 609h1M433 609h1M436 609h1M439 609h1M442 609h1M445 609h1M448 609h1M451 609h1M454 609h1M457 609h1M460 609h1M463 609h1M466 609h1M469 609h1M472 609h1M475 609h1M478 609h1M481 609h1M484 609h1M487 609h1M490 609h1M493 609h1M496 609h1M499 609h1M502 609h1M505 609h1M508 609h1M511 609h1M514 609h1M517 609h1M520 609h1M523 609h1M526 609h1M529 609h1M532 609h1M535 609h1M538 609h1M541 609h1M544 609h1M547 609h1M550 609h1M553 609h1M556 609h1M559 609h1M562 609h1M565 609h1M568 609h1M571 609h1M574 609h1M577 609h1M580 609h1M583 609h1M586 609h1M589 609h1M592 609h1M595 609h1M598 609h1M601 609h1M604 609h1M607 609h1M610 609h1M613 609h1M616 609h1M619 609h1M622 609h1M625 609h1M628 609h1M631 609h1M634 609h1M637 609h1M640 609h1M643 609h1M646 609h1M649 609h1M652 609h1M655 609h1M658 609h1M661 609h1M664 609h1M667 609h1M670 609h1M673 609h1M676 609h1M679 609h1M682 609h1M685 609h1M688 609h1M691 609h1M694 609h1M697 609h1M700 609h1M703 609h1M706 609h1M709 609h1M712 609h1M715 609h1M718 609h1M721 609h1M724 609h1M727 609h1M730 609h1M733 609h1M736 609h1M739 609h1M742 609h1M745 609h1M748 609h1M751 609h1M754 609h1M757 609h1M760 609h1M763 609h1M766 609h1M769 609h1M772 609h1M775 609h1M778 609h1M781 609h1M784 609h1M787 609h1M790 609h1M793 609h1M796 609h1M799 609h1M802 609h1M805 609h1M808 609h1M811 609h1M814 609h1M817 609h1M820 609h1M823 609h1M826 609h1M829 609h1M832 609h1M835 609h1M838 609h1M841 609h1M844 609h1M847 609h1M850 609h1M853 609h1M856 609h1M859 609h1M862 609h1M865 609h1M868 609h1M871 609h1M874 609h1M877 609h1M880 609h1M883 609h1M886 609h1M889 609h1M892 609h1M895 609h1M898 609h1M901 609h1M904 609h1M907 609h1M910 609h1M913 609h1M916 609h1M919 609h1M922 609h1M925 609h1M928 609h1M931 609h1M934 609h1M937 609h1M940 609h1M943 609h1M946 609h1M949 609h1M952 609h1M955 609h1M958 609h1M961 609h1M964 609h1M967 609h1M970 609h1M973 609h1M976 609h1M979 609h1M982 609h1M985 609h1M988 609h1" stroke="#e8ebef" stroke-width="1" fill="none" transform="translate(0 0.5)" shape-rendering="crispEdges"/>
<path d="M84 42.5H989" stroke="#e3eaee" stroke-width="1" stroke-dasharray="3 3" shape-rendering="crispEdges"/>
<text x="80.70" y="46.00" font-size="12.25" fill="#303038" text-anchor="end" font-weight="normal" >104.2384</text>
<text x="80.70" y="102.00" font-size="12.25" fill="#303038" text-anchor="end" font-weight="normal" >103.4146</text>
<rect x="81" y="98" width="3" height="1" fill="#c9ced6"/>
<text x="80.70" y="159.00" font-size="12.25" fill="#303038" text-anchor="end" font-weight="normal" >102.5907</text>
<rect x="81" y="155" width="3" height="1" fill="#c9ced6"/>
<text x="80.70" y="216.00" font-size="12.25" fill="#303038" text-anchor="end" font-weight="normal" >101.7669</text>
<rect x="81" y="212" width="3" height="1" fill="#c9ced6"/>
<text x="80.70" y="272.00" font-size="12.25" fill="#303038" text-anchor="end" font-weight="normal" >100.9430</text>
<rect x="81" y="268" width="3" height="1" fill="#c9ced6"/>
<text x="80.70" y="329.00" font-size="12.25" fill="#303038" text-anchor="end" font-weight="normal" >100.1192</text>
<rect x="81" y="325" width="3" height="1" fill="#c9ced6"/>
<text x="80.70" y="386.00" font-size="12.25" fill="#303038" text-anchor="end" font-weight="normal" >99.2953</text>
<rect x="81" y="382" width="3" height="1" fill="#c9ced6"/>
<text x="80.70" y="443.00" font-size="12.25" fill="#303038" text-anchor="end" font-weight="normal" >98.4715</text>
<rect x="81" y="439" width="3" height="1" fill="#c9ced6"/>
<text x="80.70" y="499.00" font-size="12.25" fill="#303038" text-anchor="end" font-weight="normal" >97.6476</text>
<rect x="81" y="495" width="3" height="1" fill="#c9ced6"/>
<text x="80.70" y="556.00" font-size="12.25" fill="#303038" text-anchor="end" font-weight="normal" >96.8238</text>
<rect x="81" y="552" width="3" height="1" fill="#c9ced6"/>
<text x="80.70" y="613.00" font-size="12.25" fill="#303038" text-anchor="end" font-weight="normal" >95.9999</text>
<rect x="81" y="609" width="3" height="1" fill="#c9ced6"/>
<rect x="83" y="53" width="1" height="1" fill="#c5d0dc"/>
<rect x="83" y="64" width="1" height="1" fill="#c5d0dc"/>
<rect x="83" y="76" width="1" height="1" fill="#c5d0dc"/>
<rect x="83" y="87" width="1" height="1" fill="#c5d0dc"/>
<rect x="83" y="110" width="1" height="1" fill="#c5d0dc"/>
<rect x="83" y="121" width="1" height="1" fill="#c5d0dc"/>
<rect x="83" y="132" width="1" height="1" fill="#c5d0dc"/>
<rect x="83" y="144" width="1" height="1" fill="#c5d0dc"/>
<rect x="83" y="166" width="1" height="1" fill="#c5d0dc"/>
<rect x="83" y="178" width="1" height="1" fill="#c5d0dc"/>
<rect x="83" y="189" width="1" height="1" fill="#c5d0dc"/>
<rect x="83" y="200" width="1" height="1" fill="#c5d0dc"/>
<rect x="83" y="223" width="1" height="1" fill="#c5d0dc"/>
<rect x="83" y="234" width="1" height="1" fill="#c5d0dc"/>
<rect x="83" y="246" width="1" height="1" fill="#c5d0dc"/>
<rect x="83" y="257" width="1" height="1" fill="#c5d0dc"/>
<rect x="83" y="280" width="1" height="1" fill="#c5d0dc"/>
<rect x="83" y="291" width="1" height="1" fill="#c5d0dc"/>
<rect x="83" y="302" width="1" height="1" fill="#c5d0dc"/>
<rect x="83" y="314" width="1" height="1" fill="#c5d0dc"/>
<rect x="83" y="336" width="1" height="1" fill="#c5d0dc"/>
<rect x="83" y="348" width="1" height="1" fill="#c5d0dc"/>
<rect x="83" y="359" width="1" height="1" fill="#c5d0dc"/>
<rect x="83" y="370" width="1" height="1" fill="#c5d0dc"/>
<rect x="83" y="393" width="1" height="1" fill="#c5d0dc"/>
<rect x="83" y="404" width="1" height="1" fill="#c5d0dc"/>
<rect x="83" y="416" width="1" height="1" fill="#c5d0dc"/>
<rect x="83" y="427" width="1" height="1" fill="#c5d0dc"/>
<rect x="83" y="450" width="1" height="1" fill="#c5d0dc"/>
<rect x="83" y="461" width="1" height="1" fill="#c5d0dc"/>
<rect x="83" y="473" width="1" height="1" fill="#c5d0dc"/>
<rect x="83" y="484" width="1" height="1" fill="#c5d0dc"/>
<rect x="83" y="507" width="1" height="1" fill="#c5d0dc"/>
<rect x="83" y="518" width="1" height="1" fill="#c5d0dc"/>
<rect x="83" y="529" width="1" height="1" fill="#c5d0dc"/>
<rect x="83" y="541" width="1" height="1" fill="#c5d0dc"/>
<rect x="83" y="563" width="1" height="1" fill="#c5d0dc"/>
<rect x="83" y="575" width="1" height="1" fill="#c5d0dc"/>
<rect x="83" y="586" width="1" height="1" fill="#c5d0dc"/>
<rect x="83" y="597" width="1" height="1" fill="#c5d0dc"/>
<rect x="83" y="620" width="1" height="1" fill="#c5d0dc"/>
<rect x="83" y="631" width="1" height="1" fill="#c5d0dc"/>
<rect x="83" y="643" width="1" height="1" fill="#c5d0dc"/>
<rect x="83" y="654" width="1" height="1" fill="#c5d0dc"/>
<path d="M85 711h1M88 711h1M91 711h1M94 711h1M97 711h1M100 711h1M103 711h1M106 711h1M109 711h1M112 711h1M115 711h1M118 711h1M121 711h1M124 711h1M127 711h1M130 711h1M133 711h1M136 711h1M139 711h1M142 711h1M145 711h1M148 711h1M151 711h1M154 711h1M157 711h1M160 711h1M163 711h1M166 711h1M169 711h1M172 711h1M175 711h1M178 711h1M181 711h1M184 711h1M187 711h1M190 711h1M193 711h1M196 711h1M199 711h1M202 711h1M205 711h1M208 711h1M211 711h1M214 711h1M217 711h1M220 711h1M223 711h1M226 711h1M229 711h1M232 711h1M235 711h1M238 711h1M241 711h1M244 711h1M247 711h1M250 711h1M253 711h1M256 711h1M259 711h1M262 711h1M265 711h1M268 711h1M271 711h1M274 711h1M277 711h1M280 711h1M283 711h1M286 711h1M289 711h1M292 711h1M295 711h1M298 711h1M301 711h1M304 711h1M307 711h1M310 711h1M313 711h1M316 711h1M319 711h1M322 711h1M325 711h1M328 711h1M331 711h1M334 711h1M337 711h1M340 711h1M343 711h1M346 711h1M349 711h1M352 711h1M355 711h1M358 711h1M361 711h1M364 711h1M367 711h1M370 711h1M373 711h1M376 711h1M379 711h1M382 711h1M385 711h1M388 711h1M391 711h1M394 711h1M397 711h1M400 711h1M403 711h1M406 711h1M409 711h1M412 711h1M415 711h1M418 711h1M421 711h1M424 711h1M427 711h1M430 711h1M433 711h1M436 711h1M439 711h1M442 711h1M445 711h1M448 711h1M451 711h1M454 711h1M457 711h1M460 711h1M463 711h1M466 711h1M469 711h1M472 711h1M475 711h1M478 711h1M481 711h1M484 711h1M487 711h1M490 711h1M493 711h1M496 711h1M499 711h1M502 711h1M505 711h1M508 711h1M511 711h1M514 711h1M517 711h1M520 711h1M523 711h1M526 711h1M529 711h1M532 711h1M535 711h1M538 711h1M541 711h1M544 711h1M547 711h1M550 711h1M553 711h1M556 711h1M559 711h1M562 711h1M565 711h1M568 711h1M571 711h1M574 711h1M577 711h1M580 711h1M583 711h1M586 711h1M589 711h1M592 711h1M595 711h1M598 711h1M601 711h1M604 711h1M607 711h1M610 711h1M613 711h1M616 711h1M619 711h1M622 711h1M625 711h1M628 711h1M631 711h1M634 711h1M637 711h1M640 711h1M643 711h1M646 711h1M649 711h1M652 711h1M655 711h1M658 711h1M661 711h1M664 711h1M667 711h1M670 711h1M673 711h1M676 711h1M679 711h1M682 711h1M685 711h1M688 711h1M691 711h1M694 711h1M697 711h1M700 711h1M703 711h1M706 711h1M709 711h1M712 711h1M715 711h1M718 711h1M721 711h1M724 711h1M727 711h1M730 711h1M733 711h1M736 711h1M739 711h1M742 711h1M745 711h1M748 711h1M751 711h1M754 711h1M757 711h1M760 711h1M763 711h1M766 711h1M769 711h1M772 711h1M775 711h1M778 711h1M781 711h1M784 711h1M787 711h1M790 711h1M793 711h1M796 711h1M799 711h1M802 711h1M805 711h1M808 711h1M811 711h1M814 711h1M817 711h1M820 711h1M823 711h1M826 711h1M829 711h1M832 711h1M835 711h1M838 711h1M841 711h1M844 711h1M847 711h1M850 711h1M853 711h1M856 711h1M859 711h1M862 711h1M865 711h1M868 711h1M871 711h1M874 711h1M877 711h1M880 711h1M883 711h1M886 711h1M889 711h1M892 711h1M895 711h1M898 711h1M901 711h1M904 711h1M907 711h1M910 711h1M913 711h1M916 711h1M919 711h1M922 711h1M925 711h1M928 711h1M931 711h1M934 711h1M937 711h1M940 711h1M943 711h1M946 711h1M949 711h1M952 711h1M955 711h1M958 711h1M961 711h1M964 711h1M967 711h1M970 711h1M973 711h1M976 711h1M979 711h1M982 711h1M985 711h1M988 711h1M85 734h1M88 734h1M91 734h1M94 734h1M97 734h1M100 734h1M103 734h1M106 734h1M109 734h1M112 734h1M115 734h1M118 734h1M121 734h1M124 734h1M127 734h1M130 734h1M133 734h1M136 734h1M139 734h1M142 734h1M145 734h1M148 734h1M151 734h1M154 734h1M157 734h1M160 734h1M163 734h1M166 734h1M169 734h1M172 734h1M175 734h1M178 734h1M181 734h1M184 734h1M187 734h1M190 734h1M193 734h1M196 734h1M199 734h1M202 734h1M205 734h1M208 734h1M211 734h1M214 734h1M217 734h1M220 734h1M223 734h1M226 734h1M229 734h1M232 734h1M235 734h1M238 734h1M241 734h1M244 734h1M247 734h1M250 734h1M253 734h1M256 734h1M259 734h1M262 734h1M265 734h1M268 734h1M271 734h1M274 734h1M277 734h1M280 734h1M283 734h1M286 734h1M289 734h1M292 734h1M295 734h1M298 734h1M301 734h1M304 734h1M307 734h1M310 734h1M313 734h1M316 734h1M319 734h1M322 734h1M325 734h1M328 734h1M331 734h1M334 734h1M337 734h1M340 734h1M343 734h1M346 734h1M349 734h1M352 734h1M355 734h1M358 734h1M361 734h1M364 734h1M367 734h1M370 734h1M373 734h1M376 734h1M379 734h1M382 734h1M385 734h1M388 734h1M391 734h1M394 734h1M397 734h1M400 734h1M403 734h1M406 734h1M409 734h1M412 734h1M415 734h1M418 734h1M421 734h1M424 734h1M427 734h1M430 734h1M433 734h1M436 734h1M439 734h1M442 734h1M445 734h1M448 734h1M451 734h1M454 734h1M457 734h1M460 734h1M463 734h1M466 734h1M469 734h1M472 734h1M475 734h1M478 734h1M481 734h1M484 734h1M487 734h1M490 734h1M493 734h1M496 734h1M499 734h1M502 734h1M505 734h1M508 734h1M511 734h1M514 734h1M517 734h1M520 734h1M523 734h1M526 734h1M529 734h1M532 734h1M535 734h1M538 734h1M541 734h1M544 734h1M547 734h1M550 734h1M553 734h1M556 734h1M559 734h1M562 734h1M565 734h1M568 734h1M571 734h1M574 734h1M577 734h1M580 734h1M583 734h1M586 734h1M589 734h1M592 734h1M595 734h1M598 734h1M601 734h1M604 734h1M607 734h1M610 734h1M613 734h1M616 734h1M619 734h1M622 734h1M625 734h1M628 734h1M631 734h1M634 734h1M637 734h1M640 734h1M643 734h1M646 734h1M649 734h1M652 734h1M655 734h1M658 734h1M661 734h1M664 734h1M667 734h1M670 734h1M673 734h1M676 734h1M679 734h1M682 734h1M685 734h1M688 734h1M691 734h1M694 734h1M697 734h1M700 734h1M703 734h1M706 734h1M709 734h1M712 734h1M715 734h1M718 734h1M721 734h1M724 734h1M727 734h1M730 734h1M733 734h1M736 734h1M739 734h1M742 734h1M745 734h1M748 734h1M751 734h1M754 734h1M757 734h1M760 734h1M763 734h1M766 734h1M769 734h1M772 734h1M775 734h1M778 734h1M781 734h1M784 734h1M787 734h1M790 734h1M793 734h1M796 734h1M799 734h1M802 734h1M805 734h1M808 734h1M811 734h1M814 734h1M817 734h1M820 734h1M823 734h1M826 734h1M829 734h1M832 734h1M835 734h1M838 734h1M841 734h1M844 734h1M847 734h1M850 734h1M853 734h1M856 734h1M859 734h1M862 734h1M865 734h1M868 734h1M871 734h1M874 734h1M877 734h1M880 734h1M883 734h1M886 734h1M889 734h1M892 734h1M895 734h1M898 734h1M901 734h1M904 734h1M907 734h1M910 734h1M913 734h1M916 734h1M919 734h1M922 734h1M925 734h1M928 734h1M931 734h1M934 734h1M937 734h1M940 734h1M943 734h1M946 734h1M949 734h1M952 734h1M955 734h1M958 734h1M961 734h1M964 734h1M967 734h1M970 734h1M973 734h1M976 734h1M979 734h1M982 734h1M985 734h1M988 734h1M85 758h1M88 758h1M91 758h1M94 758h1M97 758h1M100 758h1M103 758h1M106 758h1M109 758h1M112 758h1M115 758h1M118 758h1M121 758h1M124 758h1M127 758h1M130 758h1M133 758h1M136 758h1M139 758h1M142 758h1M145 758h1M148 758h1M151 758h1M154 758h1M157 758h1M160 758h1M163 758h1M166 758h1M169 758h1M172 758h1M175 758h1M178 758h1M181 758h1M184 758h1M187 758h1M190 758h1M193 758h1M196 758h1M199 758h1M202 758h1M205 758h1M208 758h1M211 758h1M214 758h1M217 758h1M220 758h1M223 758h1M226 758h1M229 758h1M232 758h1M235 758h1M238 758h1M241 758h1M244 758h1M247 758h1M250 758h1M253 758h1M256 758h1M259 758h1M262 758h1M265 758h1M268 758h1M271 758h1M274 758h1M277 758h1M280 758h1M283 758h1M286 758h1M289 758h1M292 758h1M295 758h1M298 758h1M301 758h1M304 758h1M307 758h1M310 758h1M313 758h1M316 758h1M319 758h1M322 758h1M325 758h1M328 758h1M331 758h1M334 758h1M337 758h1M340 758h1M343 758h1M346 758h1M349 758h1M352 758h1M355 758h1M358 758h1M361 758h1M364 758h1M367 758h1M370 758h1M373 758h1M376 758h1M379 758h1M382 758h1M385 758h1M388 758h1M391 758h1M394 758h1M397 758h1M400 758h1M403 758h1M406 758h1M409 758h1M412 758h1M415 758h1M418 758h1M421 758h1M424 758h1M427 758h1M430 758h1M433 758h1M436 758h1M439 758h1M442 758h1M445 758h1M448 758h1M451 758h1M454 758h1M457 758h1M460 758h1M463 758h1M466 758h1M469 758h1M472 758h1M475 758h1M478 758h1M481 758h1M484 758h1M487 758h1M490 758h1M493 758h1M496 758h1M499 758h1M502 758h1M505 758h1M508 758h1M511 758h1M514 758h1M517 758h1M520 758h1M523 758h1M526 758h1M529 758h1M532 758h1M535 758h1M538 758h1M541 758h1M544 758h1M547 758h1M550 758h1M553 758h1M556 758h1M559 758h1M562 758h1M565 758h1M568 758h1M571 758h1M574 758h1M577 758h1M580 758h1M583 758h1M586 758h1M589 758h1M592 758h1M595 758h1M598 758h1M601 758h1M604 758h1M607 758h1M610 758h1M613 758h1M616 758h1M619 758h1M622 758h1M625 758h1M628 758h1M631 758h1M634 758h1M637 758h1M640 758h1M643 758h1M646 758h1M649 758h1M652 758h1M655 758h1M658 758h1M661 758h1M664 758h1M667 758h1M670 758h1M673 758h1M676 758h1M679 758h1M682 758h1M685 758h1M688 758h1M691 758h1M694 758h1M697 758h1M700 758h1M703 758h1M706 758h1M709 758h1M712 758h1M715 758h1M718 758h1M721 758h1M724 758h1M727 758h1M730 758h1M733 758h1M736 758h1M739 758h1M742 758h1M745 758h1M748 758h1M751 758h1M754 758h1M757 758h1M760 758h1M763 758h1M766 758h1M769 758h1M772 758h1M775 758h1M778 758h1M781 758h1M784 758h1M787 758h1M790 758h1M793 758h1M796 758h1M799 758h1M802 758h1M805 758h1M808 758h1M811 758h1M814 758h1M817 758h1M820 758h1M823 758h1M826 758h1M829 758h1M832 758h1M835 758h1M838 758h1M841 758h1M844 758h1M847 758h1M850 758h1M853 758h1M856 758h1M859 758h1M862 758h1M865 758h1M868 758h1M871 758h1M874 758h1M877 758h1M880 758h1M883 758h1M886 758h1M889 758h1M892 758h1M895 758h1M898 758h1M901 758h1M904 758h1M907 758h1M910 758h1M913 758h1M916 758h1M919 758h1M922 758h1M925 758h1M928 758h1M931 758h1M934 758h1M937 758h1M940 758h1M943 758h1M946 758h1M949 758h1M952 758h1M955 758h1M958 758h1M961 758h1M964 758h1M967 758h1M970 758h1M973 758h1M976 758h1M979 758h1M982 758h1M985 758h1M988 758h1M85 781h1M88 781h1M91 781h1M94 781h1M97 781h1M100 781h1M103 781h1M106 781h1M109 781h1M112 781h1M115 781h1M118 781h1M121 781h1M124 781h1M127 781h1M130 781h1M133 781h1M136 781h1M139 781h1M142 781h1M145 781h1M148 781h1M151 781h1M154 781h1M157 781h1M160 781h1M163 781h1M166 781h1M169 781h1M172 781h1M175 781h1M178 781h1M181 781h1M184 781h1M187 781h1M190 781h1M193 781h1M196 781h1M199 781h1M202 781h1M205 781h1M208 781h1M211 781h1M214 781h1M217 781h1M220 781h1M223 781h1M226 781h1M229 781h1M232 781h1M235 781h1M238 781h1M241 781h1M244 781h1M247 781h1M250 781h1M253 781h1M256 781h1M259 781h1M262 781h1M265 781h1M268 781h1M271 781h1M274 781h1M277 781h1M280 781h1M283 781h1M286 781h1M289 781h1M292 781h1M295 781h1M298 781h1M301 781h1M304 781h1M307 781h1M310 781h1M313 781h1M316 781h1M319 781h1M322 781h1M325 781h1M328 781h1M331 781h1M334 781h1M337 781h1M340 781h1M343 781h1M346 781h1M349 781h1M352 781h1M355 781h1M358 781h1M361 781h1M364 781h1M367 781h1M370 781h1M373 781h1M376 781h1M379 781h1M382 781h1M385 781h1M388 781h1M391 781h1M394 781h1M397 781h1M400 781h1M403 781h1M406 781h1M409 781h1M412 781h1M415 781h1M418 781h1M421 781h1M424 781h1M427 781h1M430 781h1M433 781h1M436 781h1M439 781h1M442 781h1M445 781h1M448 781h1M451 781h1M454 781h1M457 781h1M460 781h1M463 781h1M466 781h1M469 781h1M472 781h1M475 781h1M478 781h1M481 781h1M484 781h1M487 781h1M490 781h1M493 781h1M496 781h1M499 781h1M502 781h1M505 781h1M508 781h1M511 781h1M514 781h1M517 781h1M520 781h1M523 781h1M526 781h1M529 781h1M532 781h1M535 781h1M538 781h1M541 781h1M544 781h1M547 781h1M550 781h1M553 781h1M556 781h1M559 781h1M562 781h1M565 781h1M568 781h1M571 781h1M574 781h1M577 781h1M580 781h1M583 781h1M586 781h1M589 781h1M592 781h1M595 781h1M598 781h1M601 781h1M604 781h1M607 781h1M610 781h1M613 781h1M616 781h1M619 781h1M622 781h1M625 781h1M628 781h1M631 781h1M634 781h1M637 781h1M640 781h1M643 781h1M646 781h1M649 781h1M652 781h1M655 781h1M658 781h1M661 781h1M664 781h1M667 781h1M670 781h1M673 781h1M676 781h1M679 781h1M682 781h1M685 781h1M688 781h1M691 781h1M694 781h1M697 781h1M700 781h1M703 781h1M706 781h1M709 781h1M712 781h1M715 781h1M718 781h1M721 781h1M724 781h1M727 781h1M730 781h1M733 781h1M736 781h1M739 781h1M742 781h1M745 781h1M748 781h1M751 781h1M754 781h1M757 781h1M760 781h1M763 781h1M766 781h1M769 781h1M772 781h1M775 781h1M778 781h1M781 781h1M784 781h1M787 781h1M790 781h1M793 781h1M796 781h1M799 781h1M802 781h1M805 781h1M808 781h1M811 781h1M814 781h1M817 781h1M820 781h1M823 781h1M826 781h1M829 781h1M832 781h1M835 781h1M838 781h1M841 781h1M844 781h1M847 781h1M850 781h1M853 781h1M856 781h1M859 781h1M862 781h1M865 781h1M868 781h1M871 781h1M874 781h1M877 781h1M880 781h1M883 781h1M886 781h1M889 781h1M892 781h1M895 781h1M898 781h1M901 781h1M904 781h1M907 781h1M910 781h1M913 781h1M916 781h1M919 781h1M922 781h1M925 781h1M928 781h1M931 781h1M934 781h1M937 781h1M940 781h1M943 781h1M946 781h1M949 781h1M952 781h1M955 781h1M958 781h1M961 781h1M964 781h1M967 781h1M970 781h1M973 781h1M976 781h1M979 781h1M982 781h1M985 781h1M988 781h1M85 805h1M88 805h1M91 805h1M94 805h1M97 805h1M100 805h1M103 805h1M106 805h1M109 805h1M112 805h1M115 805h1M118 805h1M121 805h1M124 805h1M127 805h1M130 805h1M133 805h1M136 805h1M139 805h1M142 805h1M145 805h1M148 805h1M151 805h1M154 805h1M157 805h1M160 805h1M163 805h1M166 805h1M169 805h1M172 805h1M175 805h1M178 805h1M181 805h1M184 805h1M187 805h1M190 805h1M193 805h1M196 805h1M199 805h1M202 805h1M205 805h1M208 805h1M211 805h1M214 805h1M217 805h1M220 805h1M223 805h1M226 805h1M229 805h1M232 805h1M235 805h1M238 805h1M241 805h1M244 805h1M247 805h1M250 805h1M253 805h1M256 805h1M259 805h1M262 805h1M265 805h1M268 805h1M271 805h1M274 805h1M277 805h1M280 805h1M283 805h1M286 805h1M289 805h1M292 805h1M295 805h1M298 805h1M301 805h1M304 805h1M307 805h1M310 805h1M313 805h1M316 805h1M319 805h1M322 805h1M325 805h1M328 805h1M331 805h1M334 805h1M337 805h1M340 805h1M343 805h1M346 805h1M349 805h1M352 805h1M355 805h1M358 805h1M361 805h1M364 805h1M367 805h1M370 805h1M373 805h1M376 805h1M379 805h1M382 805h1M385 805h1M388 805h1M391 805h1M394 805h1M397 805h1M400 805h1M403 805h1M406 805h1M409 805h1M412 805h1M415 805h1M418 805h1M421 805h1M424 805h1M427 805h1M430 805h1M433 805h1M436 805h1M439 805h1M442 805h1M445 805h1M448 805h1M451 805h1M454 805h1M457 805h1M460 805h1M463 805h1M466 805h1M469 805h1M472 805h1M475 805h1M478 805h1M481 805h1M484 805h1M487 805h1M490 805h1M493 805h1M496 805h1M499 805h1M502 805h1M505 805h1M508 805h1M511 805h1M514 805h1M517 805h1M520 805h1M523 805h1M526 805h1M529 805h1M532 805h1M535 805h1M538 805h1M541 805h1M544 805h1M547 805h1M550 805h1M553 805h1M556 805h1M559 805h1M562 805h1M565 805h1M568 805h1M571 805h1M574 805h1M577 805h1M580 805h1M583 805h1M586 805h1M589 805h1M592 805h1M595 805h1M598 805h1M601 805h1M604 805h1M607 805h1M610 805h1M613 805h1M616 805h1M619 805h1M622 805h1M625 805h1M628 805h1M631 805h1M634 805h1M637 805h1M640 805h1M643 805h1M646 805h1M649 805h1M652 805h1M655 805h1M658 805h1M661 805h1M664 805h1M667 805h1M670 805h1M673 805h1M676 805h1M679 805h1M682 805h1M685 805h1M688 805h1M691 805h1M694 805h1M697 805h1M700 805h1M703 805h1M706 805h1M709 805h1M712 805h1M715 805h1M718 805h1M721 805h1M724 805h1M727 805h1M730 805h1M733 805h1M736 805h1M739 805h1M742 805h1M745 805h1M748 805h1M751 805h1M754 805h1M757 805h1M760 805h1M763 805h1M766 805h1M769 805h1M772 805h1M775 805h1M778 805h1M781 805h1M784 805h1M787 805h1M790 805h1M793 805h1M796 805h1M799 805h1M802 805h1M805 805h1M808 805h1M811 805h1M814 805h1M817 805h1M820 805h1M823 805h1M826 805h1M829 805h1M832 805h1M835 805h1M838 805h1M841 805h1M844 805h1M847 805h1M850 805h1M853 805h1M856 805h1M859 805h1M862 805h1M865 805h1M868 805h1M871 805h1M874 805h1M877 805h1M880 805h1M883 805h1M886 805h1M889 805h1M892 805h1M895 805h1M898 805h1M901 805h1M904 805h1M907 805h1M910 805h1M913 805h1M916 805h1M919 805h1M922 805h1M925 805h1M928 805h1M931 805h1M934 805h1M937 805h1M940 805h1M943 805h1M946 805h1M949 805h1M952 805h1M955 805h1M958 805h1M961 805h1M964 805h1M967 805h1M970 805h1M973 805h1M976 805h1M979 805h1M982 805h1M985 805h1M988 805h1M85 828h1M88 828h1M91 828h1M94 828h1M97 828h1M100 828h1M103 828h1M106 828h1M109 828h1M112 828h1M115 828h1M118 828h1M121 828h1M124 828h1M127 828h1M130 828h1M133 828h1M136 828h1M139 828h1M142 828h1M145 828h1M148 828h1M151 828h1M154 828h1M157 828h1M160 828h1M163 828h1M166 828h1M169 828h1M172 828h1M175 828h1M178 828h1M181 828h1M184 828h1M187 828h1M190 828h1M193 828h1M196 828h1M199 828h1M202 828h1M205 828h1M208 828h1M211 828h1M214 828h1M217 828h1M220 828h1M223 828h1M226 828h1M229 828h1M232 828h1M235 828h1M238 828h1M241 828h1M244 828h1M247 828h1M250 828h1M253 828h1M256 828h1M259 828h1M262 828h1M265 828h1M268 828h1M271 828h1M274 828h1M277 828h1M280 828h1M283 828h1M286 828h1M289 828h1M292 828h1M295 828h1M298 828h1M301 828h1M304 828h1M307 828h1M310 828h1M313 828h1M316 828h1M319 828h1M322 828h1M325 828h1M328 828h1M331 828h1M334 828h1M337 828h1M340 828h1M343 828h1M346 828h1M349 828h1M352 828h1M355 828h1M358 828h1M361 828h1M364 828h1M367 828h1M370 828h1M373 828h1M376 828h1M379 828h1M382 828h1M385 828h1M388 828h1M391 828h1M394 828h1M397 828h1M400 828h1M403 828h1M406 828h1M409 828h1M412 828h1M415 828h1M418 828h1M421 828h1M424 828h1M427 828h1M430 828h1M433 828h1M436 828h1M439 828h1M442 828h1M445 828h1M448 828h1M451 828h1M454 828h1M457 828h1M460 828h1M463 828h1M466 828h1M469 828h1M472 828h1M475 828h1M478 828h1M481 828h1M484 828h1M487 828h1M490 828h1M493 828h1M496 828h1M499 828h1M502 828h1M505 828h1M508 828h1M511 828h1M514 828h1M517 828h1M520 828h1M523 828h1M526 828h1M529 828h1M532 828h1M535 828h1M538 828h1M541 828h1M544 828h1M547 828h1M550 828h1M553 828h1M556 828h1M559 828h1M562 828h1M565 828h1M568 828h1M571 828h1M574 828h1M577 828h1M580 828h1M583 828h1M586 828h1M589 828h1M592 828h1M595 828h1M598 828h1M601 828h1M604 828h1M607 828h1M610 828h1M613 828h1M616 828h1M619 828h1M622 828h1M625 828h1M628 828h1M631 828h1M634 828h1M637 828h1M640 828h1M643 828h1M646 828h1M649 828h1M652 828h1M655 828h1M658 828h1M661 828h1M664 828h1M667 828h1M670 828h1M673 828h1M676 828h1M679 828h1M682 828h1M685 828h1M688 828h1M691 828h1M694 828h1M697 828h1M700 828h1M703 828h1M706 828h1M709 828h1M712 828h1M715 828h1M718 828h1M721 828h1M724 828h1M727 828h1M730 828h1M733 828h1M736 828h1M739 828h1M742 828h1M745 828h1M748 828h1M751 828h1M754 828h1M757 828h1M760 828h1M763 828h1M766 828h1M769 828h1M772 828h1M775 828h1M778 828h1M781 828h1M784 828h1M787 828h1M790 828h1M793 828h1M796 828h1M799 828h1M802 828h1M805 828h1M808 828h1M811 828h1M814 828h1M817 828h1M820 828h1M823 828h1M826 828h1M829 828h1M832 828h1M835 828h1M838 828h1M841 828h1M844 828h1M847 828h1M850 828h1M853 828h1M856 828h1M859 828h1M862 828h1M865 828h1M868 828h1M871 828h1M874 828h1M877 828h1M880 828h1M883 828h1M886 828h1M889 828h1M892 828h1M895 828h1M898 828h1M901 828h1M904 828h1M907 828h1M910 828h1M913 828h1M916 828h1M919 828h1M922 828h1M925 828h1M928 828h1M931 828h1M934 828h1M937 828h1M940 828h1M943 828h1M946 828h1M949 828h1M952 828h1M955 828h1M958 828h1M961 828h1M964 828h1M967 828h1M970 828h1M973 828h1M976 828h1M979 828h1M982 828h1M985 828h1M988 828h1M85 851h1M88 851h1M91 851h1M94 851h1M97 851h1M100 851h1M103 851h1M106 851h1M109 851h1M112 851h1M115 851h1M118 851h1M121 851h1M124 851h1M127 851h1M130 851h1M133 851h1M136 851h1M139 851h1M142 851h1M145 851h1M148 851h1M151 851h1M154 851h1M157 851h1M160 851h1M163 851h1M166 851h1M169 851h1M172 851h1M175 851h1M178 851h1M181 851h1M184 851h1M187 851h1M190 851h1M193 851h1M196 851h1M199 851h1M202 851h1M205 851h1M208 851h1M211 851h1M214 851h1M217 851h1M220 851h1M223 851h1M226 851h1M229 851h1M232 851h1M235 851h1M238 851h1M241 851h1M244 851h1M247 851h1M250 851h1M253 851h1M256 851h1M259 851h1M262 851h1M265 851h1M268 851h1M271 851h1M274 851h1M277 851h1M280 851h1M283 851h1M286 851h1M289 851h1M292 851h1M295 851h1M298 851h1M301 851h1M304 851h1M307 851h1M310 851h1M313 851h1M316 851h1M319 851h1M322 851h1M325 851h1M328 851h1M331 851h1M334 851h1M337 851h1M340 851h1M343 851h1M346 851h1M349 851h1M352 851h1M355 851h1M358 851h1M361 851h1M364 851h1M367 851h1M370 851h1M373 851h1M376 851h1M379 851h1M382 851h1M385 851h1M388 851h1M391 851h1M394 851h1M397 851h1M400 851h1M403 851h1M406 851h1M409 851h1M412 851h1M415 851h1M418 851h1M421 851h1M424 851h1M427 851h1M430 851h1M433 851h1M436 851h1M439 851h1M442 851h1M445 851h1M448 851h1M451 851h1M454 851h1M457 851h1M460 851h1M463 851h1M466 851h1M469 851h1M472 851h1M475 851h1M478 851h1M481 851h1M484 851h1M487 851h1M490 851h1M493 851h1M496 851h1M499 851h1M502 851h1M505 851h1M508 851h1M511 851h1M514 851h1M517 851h1M520 851h1M523 851h1M526 851h1M529 851h1M532 851h1M535 851h1M538 851h1M541 851h1M544 851h1M547 851h1M550 851h1M553 851h1M556 851h1M559 851h1M562 851h1M565 851h1M568 851h1M571 851h1M574 851h1M577 851h1M580 851h1M583 851h1M586 851h1M589 851h1M592 851h1M595 851h1M598 851h1M601 851h1M604 851h1M607 851h1M610 851h1M613 851h1M616 851h1M619 851h1M622 851h1M625 851h1M628 851h1M631 851h1M634 851h1M637 851h1M640 851h1M643 851h1M646 851h1M649 851h1M652 851h1M655 851h1M658 851h1M661 851h1M664 851h1M667 851h1M670 851h1M673 851h1M676 851h1M679 851h1M682 851h1M685 851h1M688 851h1M691 851h1M694 851h1M697 851h1M700 851h1M703 851h1M706 851h1M709 851h1M712 851h1M715 851h1M718 851h1M721 851h1M724 851h1M727 851h1M730 851h1M733 851h1M736 851h1M739 851h1M742 851h1M745 851h1M748 851h1M751 851h1M754 851h1M757 851h1M760 851h1M763 851h1M766 851h1M769 851h1M772 851h1M775 851h1M778 851h1M781 851h1M784 851h1M787 851h1M790 851h1M793 851h1M796 851h1M799 851h1M802 851h1M805 851h1M808 851h1M811 851h1M814 851h1M817 851h1M820 851h1M823 851h1M826 851h1M829 851h1M832 851h1M835 851h1M838 851h1M841 851h1M844 851h1M847 851h1M850 851h1M853 851h1M856 851h1M859 851h1M862 851h1M865 851h1M868 851h1M871 851h1M874 851h1M877 851h1M880 851h1M883 851h1M886 851h1M889 851h1M892 851h1M895 851h1M898 851h1M901 851h1M904 851h1M907 851h1M910 851h1M913 851h1M916 851h1M919 851h1M922 851h1M925 851h1M928 851h1M931 851h1M934 851h1M937 851h1M940 851h1M943 851h1M946 851h1M949 851h1M952 851h1M955 851h1M958 851h1M961 851h1M964 851h1M967 851h1M970 851h1M973 851h1M976 851h1M979 851h1M982 851h1M985 851h1M988 851h1M85 875h1M88 875h1M91 875h1M94 875h1M97 875h1M100 875h1M103 875h1M106 875h1M109 875h1M112 875h1M115 875h1M118 875h1M121 875h1M124 875h1M127 875h1M130 875h1M133 875h1M136 875h1M139 875h1M142 875h1M145 875h1M148 875h1M151 875h1M154 875h1M157 875h1M160 875h1M163 875h1M166 875h1M169 875h1M172 875h1M175 875h1M178 875h1M181 875h1M184 875h1M187 875h1M190 875h1M193 875h1M196 875h1M199 875h1M202 875h1M205 875h1M208 875h1M211 875h1M214 875h1M217 875h1M220 875h1M223 875h1M226 875h1M229 875h1M232 875h1M235 875h1M238 875h1M241 875h1M244 875h1M247 875h1M250 875h1M253 875h1M256 875h1M259 875h1M262 875h1M265 875h1M268 875h1M271 875h1M274 875h1M277 875h1M280 875h1M283 875h1M286 875h1M289 875h1M292 875h1M295 875h1M298 875h1M301 875h1M304 875h1M307 875h1M310 875h1M313 875h1M316 875h1M319 875h1M322 875h1M325 875h1M328 875h1M331 875h1M334 875h1M337 875h1M340 875h1M343 875h1M346 875h1M349 875h1M352 875h1M355 875h1M358 875h1M361 875h1M364 875h1M367 875h1M370 875h1M373 875h1M376 875h1M379 875h1M382 875h1M385 875h1M388 875h1M391 875h1M394 875h1M397 875h1M400 875h1M403 875h1M406 875h1M409 875h1M412 875h1M415 875h1M418 875h1M421 875h1M424 875h1M427 875h1M430 875h1M433 875h1M436 875h1M439 875h1M442 875h1M445 875h1M448 875h1M451 875h1M454 875h1M457 875h1M460 875h1M463 875h1M466 875h1M469 875h1M472 875h1M475 875h1M478 875h1M481 875h1M484 875h1M487 875h1M490 875h1M493 875h1M496 875h1M499 875h1M502 875h1M505 875h1M508 875h1M511 875h1M514 875h1M517 875h1M520 875h1M523 875h1M526 875h1M529 875h1M532 875h1M535 875h1M538 875h1M541 875h1M544 875h1M547 875h1M550 875h1M553 875h1M556 875h1M559 875h1M562 875h1M565 875h1M568 875h1M571 875h1M574 875h1M577 875h1M580 875h1M583 875h1M586 875h1M589 875h1M592 875h1M595 875h1M598 875h1M601 875h1M604 875h1M607 875h1M610 875h1M613 875h1M616 875h1M619 875h1M622 875h1M625 875h1M628 875h1M631 875h1M634 875h1M637 875h1M640 875h1M643 875h1M646 875h1M649 875h1M652 875h1M655 875h1M658 875h1M661 875h1M664 875h1M667 875h1M670 875h1M673 875h1M676 875h1M679 875h1M682 875h1M685 875h1M688 875h1M691 875h1M694 875h1M697 875h1M700 875h1M703 875h1M706 875h1M709 875h1M712 875h1M715 875h1M718 875h1M721 875h1M724 875h1M727 875h1M730 875h1M733 875h1M736 875h1M739 875h1M742 875h1M745 875h1M748 875h1M751 875h1M754 875h1M757 875h1M760 875h1M763 875h1M766 875h1M769 875h1M772 875h1M775 875h1M778 875h1M781 875h1M784 875h1M787 875h1M790 875h1M793 875h1M796 875h1M799 875h1M802 875h1M805 875h1M808 875h1M811 875h1M814 875h1M817 875h1M820 875h1M823 875h1M826 875h1M829 875h1M832 875h1M835 875h1M838 875h1M841 875h1M844 875h1M847 875h1M850 875h1M853 875h1M856 875h1M859 875h1M862 875h1M865 875h1M868 875h1M871 875h1M874 875h1M877 875h1M880 875h1M883 875h1M886 875h1M889 875h1M892 875h1M895 875h1M898 875h1M901 875h1M904 875h1M907 875h1M910 875h1M913 875h1M916 875h1M919 875h1M922 875h1M925 875h1M928 875h1M931 875h1M934 875h1M937 875h1M940 875h1M943 875h1M946 875h1M949 875h1M952 875h1M955 875h1M958 875h1M961 875h1M964 875h1M967 875h1M970 875h1M973 875h1M976 875h1M979 875h1M982 875h1M985 875h1M988 875h1M85 898h1M88 898h1M91 898h1M94 898h1M97 898h1M100 898h1M103 898h1M106 898h1M109 898h1M112 898h1M115 898h1M118 898h1M121 898h1M124 898h1M127 898h1M130 898h1M133 898h1M136 898h1M139 898h1M142 898h1M145 898h1M148 898h1M151 898h1M154 898h1M157 898h1M160 898h1M163 898h1M166 898h1M169 898h1M172 898h1M175 898h1M178 898h1M181 898h1M184 898h1M187 898h1M190 898h1M193 898h1M196 898h1M199 898h1M202 898h1M205 898h1M208 898h1M211 898h1M214 898h1M217 898h1M220 898h1M223 898h1M226 898h1M229 898h1M232 898h1M235 898h1M238 898h1M241 898h1M244 898h1M247 898h1M250 898h1M253 898h1M256 898h1M259 898h1M262 898h1M265 898h1M268 898h1M271 898h1M274 898h1M277 898h1M280 898h1M283 898h1M286 898h1M289 898h1M292 898h1M295 898h1M298 898h1M301 898h1M304 898h1M307 898h1M310 898h1M313 898h1M316 898h1M319 898h1M322 898h1M325 898h1M328 898h1M331 898h1M334 898h1M337 898h1M340 898h1M343 898h1M346 898h1M349 898h1M352 898h1M355 898h1M358 898h1M361 898h1M364 898h1M367 898h1M370 898h1M373 898h1M376 898h1M379 898h1M382 898h1M385 898h1M388 898h1M391 898h1M394 898h1M397 898h1M400 898h1M403 898h1M406 898h1M409 898h1M412 898h1M415 898h1M418 898h1M421 898h1M424 898h1M427 898h1M430 898h1M433 898h1M436 898h1M439 898h1M442 898h1M445 898h1M448 898h1M451 898h1M454 898h1M457 898h1M460 898h1M463 898h1M466 898h1M469 898h1M472 898h1M475 898h1M478 898h1M481 898h1M484 898h1M487 898h1M490 898h1M493 898h1M496 898h1M499 898h1M502 898h1M505 898h1M508 898h1M511 898h1M514 898h1M517 898h1M520 898h1M523 898h1M526 898h1M529 898h1M532 898h1M535 898h1M538 898h1M541 898h1M544 898h1M547 898h1M550 898h1M553 898h1M556 898h1M559 898h1M562 898h1M565 898h1M568 898h1M571 898h1M574 898h1M577 898h1M580 898h1M583 898h1M586 898h1M589 898h1M592 898h1M595 898h1M598 898h1M601 898h1M604 898h1M607 898h1M610 898h1M613 898h1M616 898h1M619 898h1M622 898h1M625 898h1M628 898h1M631 898h1M634 898h1M637 898h1M640 898h1M643 898h1M646 898h1M649 898h1M652 898h1M655 898h1M658 898h1M661 898h1M664 898h1M667 898h1M670 898h1M673 898h1M676 898h1M679 898h1M682 898h1M685 898h1M688 898h1M691 898h1M694 898h1M697 898h1M700 898h1M703 898h1M706 898h1M709 898h1M712 898h1M715 898h1M718 898h1M721 898h1M724 898h1M727 898h1M730 898h1M733 898h1M736 898h1M739 898h1M742 898h1M745 898h1M748 898h1M751 898h1M754 898h1M757 898h1M760 898h1M763 898h1M766 898h1M769 898h1M772 898h1M775 898h1M778 898h1M781 898h1M784 898h1M787 898h1M790 898h1M793 898h1M796 898h1M799 898h1M802 898h1M805 898h1M808 898h1M811 898h1M814 898h1M817 898h1M820 898h1M823 898h1M826 898h1M829 898h1M832 898h1M835 898h1M838 898h1M841 898h1M844 898h1M847 898h1M850 898h1M853 898h1M856 898h1M859 898h1M862 898h1M865 898h1M868 898h1M871 898h1M874 898h1M877 898h1M880 898h1M883 898h1M886 898h1M889 898h1M892 898h1M895 898h1M898 898h1M901 898h1M904 898h1M907 898h1M910 898h1M913 898h1M916 898h1M919 898h1M922 898h1M925 898h1M928 898h1M931 898h1M934 898h1M937 898h1M940 898h1M943 898h1M946 898h1M949 898h1M952 898h1M955 898h1M958 898h1M961 898h1M964 898h1M967 898h1M970 898h1M973 898h1M976 898h1M979 898h1M982 898h1M985 898h1M988 898h1" stroke="#e8ebef" stroke-width="1" fill="none" transform="translate(0 0.5)" shape-rendering="crispEdges"/>
<path d="M84 688.5H989" stroke="#e3eaee" stroke-width="1" stroke-dasharray="3 3" shape-rendering="crispEdges"/>
<text x="80.70" y="692.00" font-size="12.25" fill="#303038" text-anchor="end" font-weight="normal" >0.4124</text>
<text x="80.70" y="715.00" font-size="12.25" fill="#303038" text-anchor="end" font-weight="normal" >0.3148</text>
<rect x="81" y="711" width="3" height="1" fill="#c9ced6"/>
<text x="80.70" y="738.00" font-size="12.25" fill="#303038" text-anchor="end" font-weight="normal" >0.2171</text>
<rect x="81" y="734" width="3" height="1" fill="#c9ced6"/>
<text x="80.70" y="762.00" font-size="12.25" fill="#303038" text-anchor="end" font-weight="normal" >0.1195</text>
<rect x="81" y="758" width="3" height="1" fill="#c9ced6"/>
<text x="80.70" y="785.00" font-size="12.25" fill="#303038" text-anchor="end" font-weight="normal" >0.0219</text>
<rect x="81" y="781" width="3" height="1" fill="#c9ced6"/>
<text x="80.70" y="809.00" font-size="12.25" fill="#303038" text-anchor="end" font-weight="normal" >-0.0758</text>
<rect x="81" y="805" width="3" height="1" fill="#c9ced6"/>
<text x="80.70" y="832.00" font-size="12.25" fill="#303038" text-anchor="end" font-weight="normal" >-0.1734</text>
<rect x="81" y="828" width="3" height="1" fill="#c9ced6"/>
<text x="80.70" y="855.00" font-size="12.25" fill="#303038" text-anchor="end" font-weight="normal" >-0.2710</text>
<rect x="81" y="851" width="3" height="1" fill="#c9ced6"/>
<text x="80.70" y="879.00" font-size="12.25" fill="#303038" text-anchor="end" font-weight="normal" >-0.3686</text>
<rect x="81" y="875" width="3" height="1" fill="#c9ced6"/>
<text x="80.70" y="902.00" font-size="12.25" fill="#303038" text-anchor="end" font-weight="normal" >-0.4663</text>
<rect x="81" y="898" width="3" height="1" fill="#c9ced6"/>
<rect x="83" y="693" width="1" height="1" fill="#c5d0dc"/>
<rect x="83" y="697" width="1" height="1" fill="#c5d0dc"/>
<rect x="83" y="702" width="1" height="1" fill="#c5d0dc"/>
<rect x="83" y="707" width="1" height="1" fill="#c5d0dc"/>
<rect x="83" y="716" width="1" height="1" fill="#c5d0dc"/>
<rect x="83" y="721" width="1" height="1" fill="#c5d0dc"/>
<rect x="83" y="725" width="1" height="1" fill="#c5d0dc"/>
<rect x="83" y="730" width="1" height="1" fill="#c5d0dc"/>
<rect x="83" y="739" width="1" height="1" fill="#c5d0dc"/>
<rect x="83" y="744" width="1" height="1" fill="#c5d0dc"/>
<rect x="83" y="749" width="1" height="1" fill="#c5d0dc"/>
<rect x="83" y="753" width="1" height="1" fill="#c5d0dc"/>
<rect x="83" y="763" width="1" height="1" fill="#c5d0dc"/>
<rect x="83" y="767" width="1" height="1" fill="#c5d0dc"/>
<rect x="83" y="772" width="1" height="1" fill="#c5d0dc"/>
<rect x="83" y="777" width="1" height="1" fill="#c5d0dc"/>
<rect x="83" y="786" width="1" height="1" fill="#c5d0dc"/>
<rect x="83" y="791" width="1" height="1" fill="#c5d0dc"/>
<rect x="83" y="795" width="1" height="1" fill="#c5d0dc"/>
<rect x="83" y="800" width="1" height="1" fill="#c5d0dc"/>
<rect x="83" y="809" width="1" height="1" fill="#c5d0dc"/>
<rect x="83" y="814" width="1" height="1" fill="#c5d0dc"/>
<rect x="83" y="819" width="1" height="1" fill="#c5d0dc"/>
<rect x="83" y="823" width="1" height="1" fill="#c5d0dc"/>
<rect x="83" y="833" width="1" height="1" fill="#c5d0dc"/>
<rect x="83" y="837" width="1" height="1" fill="#c5d0dc"/>
<rect x="83" y="842" width="1" height="1" fill="#c5d0dc"/>
<rect x="83" y="847" width="1" height="1" fill="#c5d0dc"/>
<rect x="83" y="856" width="1" height="1" fill="#c5d0dc"/>
<rect x="83" y="861" width="1" height="1" fill="#c5d0dc"/>
<rect x="83" y="865" width="1" height="1" fill="#c5d0dc"/>
<rect x="83" y="870" width="1" height="1" fill="#c5d0dc"/>
<rect x="83" y="879" width="1" height="1" fill="#c5d0dc"/>
<rect x="83" y="884" width="1" height="1" fill="#c5d0dc"/>
<rect x="83" y="889" width="1" height="1" fill="#c5d0dc"/>
<rect x="83" y="893" width="1" height="1" fill="#c5d0dc"/>
<rect x="83" y="903" width="1" height="1" fill="#c5d0dc"/>
<rect x="83" y="907" width="1" height="1" fill="#c5d0dc"/>
<rect x="83" y="912" width="1" height="1" fill="#c5d0dc"/>
<rect x="83" y="917" width="1" height="1" fill="#c5d0dc"/>
<g shape-rendering="crispEdges"><rect x="89" y="515" width="1" height="58" fill="#60a65c"/><rect x="86" y="519" width="7" height="49" fill="#60a65c"/><rect x="97" y="537" width="1" height="5" fill="#d0413a"/><rect x="97" y="568" width="1" height="27" fill="#d0413a"/><rect x="94.5" y="542.5" width="6" height="25" fill="#fff" stroke="#d0413a" stroke-width="1"/><rect x="105" y="500" width="1" height="17" fill="#d0413a"/><rect x="105" y="541" width="1" height="12" fill="#d0413a"/><rect x="102.5" y="517.5" width="6" height="23" fill="#fff" stroke="#d0413a" stroke-width="1"/><rect x="113" y="486" width="1" height="12" fill="#d0413a"/><rect x="113" y="518" width="1" height="5" fill="#d0413a"/><rect x="110.5" y="498.5" width="6" height="19" fill="#fff" stroke="#d0413a" stroke-width="1"/><rect x="121" y="485" width="1" height="37" fill="#60a65c"/><rect x="118" y="498" width="7" height="24" fill="#60a65c"/><rect x="129" y="510" width="1" height="18" fill="#60a65c"/><rect x="126" y="521" width="7" height="6" fill="#60a65c"/><rect x="137" y="478" width="1" height="6" fill="#d0413a"/><rect x="134.5" y="484.5" width="6" height="43" fill="#fff" stroke="#d0413a" stroke-width="1"/><rect x="145" y="431" width="1" height="12" fill="#d0413a"/><rect x="145" y="484" width="1" height="7" fill="#d0413a"/><rect x="142.5" y="443.5" width="6" height="40" fill="#fff" stroke="#d0413a" stroke-width="1"/><rect x="153" y="436" width="1" height="28" fill="#60a65c"/><rect x="150" y="442" width="7" height="20" fill="#60a65c"/><rect x="161" y="460" width="1" height="29" fill="#60a65c"/><rect x="158" y="464" width="7" height="14" fill="#60a65c"/><rect x="169" y="471" width="1" height="27" fill="#60a65c"/><rect x="166" y="478" width="7" height="8" fill="#60a65c"/><rect x="177" y="481" width="1" height="29" fill="#60a65c"/><rect x="174" y="487" width="7" height="5" fill="#60a65c"/><rect x="185" y="464" width="1" height="17" fill="#d0413a"/><rect x="185" y="492" width="1" height="14" fill="#d0413a"/><rect x="182.5" y="481.5" width="6" height="10" fill="#fff" stroke="#d0413a" stroke-width="1"/><rect x="193" y="476" width="1" height="24" fill="#60a65c"/><rect x="190" y="482" width="7" height="12" fill="#60a65c"/><rect x="201" y="438" width="1" height="29" fill="#d0413a"/><rect x="201" y="471" width="1" height="6" fill="#d0413a"/><rect x="198.5" y="467.5" width="6" height="3" fill="#fff" stroke="#d0413a" stroke-width="1"/><rect x="209" y="427" width="1" height="6" fill="#d0413a"/><rect x="209" y="467" width="1" height="1" fill="#d0413a"/><rect x="206.5" y="433.5" width="6" height="33" fill="#fff" stroke="#d0413a" stroke-width="1"/><rect x="217" y="399" width="1" height="16" fill="#d0413a"/><rect x="217" y="432" width="1" height="4" fill="#d0413a"/><rect x="214.5" y="415.5" width="6" height="16" fill="#fff" stroke="#d0413a" stroke-width="1"/><rect x="225" y="365" width="1" height="13" fill="#d0413a"/><rect x="225" y="414" width="1" height="11" fill="#d0413a"/><rect x="222.5" y="378.5" width="6" height="35" fill="#fff" stroke="#d0413a" stroke-width="1"/><rect x="233" y="371" width="1" height="47" fill="#60a65c"/><rect x="230" y="379" width="7" height="37" fill="#60a65c"/><rect x="241" y="379" width="1" height="8" fill="#d0413a"/><rect x="241" y="412" width="1" height="4" fill="#d0413a"/><rect x="238.5" y="387.5" width="6" height="24" fill="#fff" stroke="#d0413a" stroke-width="1"/><rect x="249" y="371" width="1" height="34" fill="#60a65c"/><rect x="246" y="387" width="7" height="14" fill="#60a65c"/><rect x="257" y="398" width="1" height="30" fill="#60a65c"/><rect x="254" y="402" width="7" height="26" fill="#60a65c"/><rect x="265" y="424" width="1" height="28" fill="#60a65c"/><rect x="262" y="428" width="7" height="21" fill="#60a65c"/><rect x="273" y="435" width="1" height="1" fill="#d0413a"/><rect x="273" y="448" width="1" height="22" fill="#d0413a"/><rect x="270.5" y="436.5" width="6" height="11" fill="#fff" stroke="#d0413a" stroke-width="1"/><rect x="281" y="428" width="1" height="3" fill="#d0413a"/><rect x="281" y="443" width="1" height="3" fill="#d0413a"/><rect x="278.5" y="431.5" width="6" height="11" fill="#fff" stroke="#d0413a" stroke-width="1"/><rect x="289" y="405" width="1" height="2" fill="#d0413a"/><rect x="289" y="431" width="1" height="7" fill="#d0413a"/><rect x="286.5" y="407.5" width="6" height="23" fill="#fff" stroke="#d0413a" stroke-width="1"/><rect x="297" y="394" width="1" height="25" fill="#60a65c"/><rect x="294" y="408" width="7" height="5" fill="#60a65c"/><rect x="305" y="394" width="1" height="16" fill="#d0413a"/><rect x="305" y="413" width="1" height="1" fill="#d0413a"/><rect x="302.5" y="410.5" width="6" height="2" fill="#fff" stroke="#d0413a" stroke-width="1"/><rect x="313" y="397" width="1" height="26" fill="#d0413a"/><rect x="310" y="409" width="7" height="1" fill="#d0413a"/><rect x="321" y="404" width="1" height="19" fill="#60a65c"/><rect x="318" y="410" width="7" height="7" fill="#60a65c"/><rect x="329" y="407" width="1" height="27" fill="#60a65c"/><rect x="326" y="417" width="7" height="6" fill="#60a65c"/><rect x="337" y="379" width="1" height="16" fill="#d0413a"/><rect x="337" y="424" width="1" height="6" fill="#d0413a"/><rect x="334.5" y="395.5" width="6" height="28" fill="#fff" stroke="#d0413a" stroke-width="1"/><rect x="345" y="354" width="1" height="14" fill="#d0413a"/><rect x="345" y="395" width="1" height="15" fill="#d0413a"/><rect x="342.5" y="368.5" width="6" height="26" fill="#fff" stroke="#d0413a" stroke-width="1"/><rect x="353" y="345" width="1" height="11" fill="#d0413a"/><rect x="353" y="368" width="1" height="7" fill="#d0413a"/><rect x="350.5" y="356.5" width="6" height="11" fill="#fff" stroke="#d0413a" stroke-width="1"/><rect x="361" y="342" width="1" height="3" fill="#d0413a"/><rect x="358.5" y="345.5" width="6" height="9" fill="#fff" stroke="#d0413a" stroke-width="1"/><rect x="369" y="319" width="1" height="3" fill="#d0413a"/><rect x="366.5" y="322.5" width="6" height="21" fill="#fff" stroke="#d0413a" stroke-width="1"/><rect x="377" y="310" width="1" height="20" fill="#60a65c"/><rect x="374" y="322" width="7" height="3" fill="#60a65c"/><rect x="385" y="323" width="1" height="34" fill="#60a65c"/><rect x="382" y="324" width="7" height="31" fill="#60a65c"/><rect x="393" y="343" width="1" height="33" fill="#60a65c"/><rect x="390" y="356" width="7" height="10" fill="#60a65c"/><rect x="401" y="352" width="1" height="20" fill="#60a65c"/><rect x="398" y="360" width="7" height="1" fill="#60a65c"/><rect x="409" y="352" width="1" height="32" fill="#60a65c"/><rect x="406" y="361" width="7" height="10" fill="#60a65c"/><rect x="417" y="354" width="1" height="20" fill="#60a65c"/><rect x="414" y="371" width="7" height="1" fill="#60a65c"/><rect x="425" y="363" width="1" height="41" fill="#60a65c"/><rect x="422" y="372" width="7" height="20" fill="#60a65c"/><rect x="433" y="375" width="1" height="11" fill="#d0413a"/><rect x="433" y="392" width="1" height="12" fill="#d0413a"/><rect x="430.5" y="386.5" width="6" height="5" fill="#fff" stroke="#d0413a" stroke-width="1"/><rect x="441" y="362" width="1" height="5" fill="#d0413a"/><rect x="438.5" y="367.5" width="6" height="18" fill="#fff" stroke="#d0413a" stroke-width="1"/><rect x="449" y="358" width="1" height="5" fill="#d0413a"/><rect x="449" y="367" width="1" height="9" fill="#d0413a"/><rect x="446.5" y="363.5" width="6" height="3" fill="#fff" stroke="#d0413a" stroke-width="1"/><rect x="457" y="318" width="1" height="9" fill="#d0413a"/><rect x="457" y="363" width="1" height="6" fill="#d0413a"/><rect x="454.5" y="327.5" width="6" height="35" fill="#fff" stroke="#d0413a" stroke-width="1"/><rect x="465" y="310" width="1" height="10" fill="#d0413a"/><rect x="465" y="327" width="1" height="6" fill="#d0413a"/><rect x="462.5" y="320.5" width="6" height="6" fill="#fff" stroke="#d0413a" stroke-width="1"/><rect x="473" y="307" width="1" height="28" fill="#60a65c"/><rect x="470" y="320" width="7" height="2" fill="#60a65c"/><rect x="481" y="314" width="1" height="20" fill="#d0413a"/><rect x="478" y="322" width="7" height="2" fill="#d0413a"/><rect x="489" y="316" width="1" height="42" fill="#60a65c"/><rect x="486" y="322" width="7" height="26" fill="#60a65c"/><rect x="497" y="337" width="1" height="28" fill="#60a65c"/><rect x="494" y="348" width="7" height="17" fill="#60a65c"/><rect x="505" y="355" width="1" height="20" fill="#60a65c"/><rect x="502" y="364" width="7" height="2" fill="#60a65c"/><rect x="513" y="347" width="1" height="30" fill="#60a65c"/><rect x="510" y="366" width="7" height="4" fill="#60a65c"/><rect x="521" y="368" width="1" height="35" fill="#60a65c"/><rect x="518" y="369" width="7" height="7" fill="#60a65c"/><rect x="529" y="364" width="1" height="18" fill="#60a65c"/><rect x="526" y="376" width="7" height="6" fill="#60a65c"/><rect x="537" y="379" width="1" height="37" fill="#60a65c"/><rect x="534" y="382" width="7" height="31" fill="#60a65c"/><rect x="545" y="397" width="1" height="3" fill="#d0413a"/><rect x="545" y="413" width="1" height="6" fill="#d0413a"/><rect x="542.5" y="400.5" width="6" height="12" fill="#fff" stroke="#d0413a" stroke-width="1"/><rect x="553" y="395" width="1" height="22" fill="#60a65c"/><rect x="550" y="400" width="7" height="5" fill="#60a65c"/><rect x="561" y="387" width="1" height="10" fill="#d0413a"/><rect x="561" y="406" width="1" height="12" fill="#d0413a"/><rect x="558.5" y="397.5" width="6" height="8" fill="#fff" stroke="#d0413a" stroke-width="1"/><rect x="569" y="381" width="1" height="7" fill="#d0413a"/><rect x="569" y="397" width="1" height="9" fill="#d0413a"/><rect x="566.5" y="388.5" width="6" height="8" fill="#fff" stroke="#d0413a" stroke-width="1"/><rect x="577" y="385" width="1" height="47" fill="#60a65c"/><rect x="574" y="388" width="7" height="40" fill="#60a65c"/><rect x="585" y="420" width="1" height="43" fill="#60a65c"/><rect x="582" y="429" width="7" height="20" fill="#60a65c"/><rect x="593" y="436" width="1" height="10" fill="#d0413a"/><rect x="593" y="449" width="1" height="3" fill="#d0413a"/><rect x="590.5" y="446.5" width="6" height="2" fill="#fff" stroke="#d0413a" stroke-width="1"/><rect x="601" y="439" width="1" height="24" fill="#60a65c"/><rect x="598" y="446" width="7" height="8" fill="#60a65c"/><rect x="609" y="450" width="1" height="31" fill="#60a65c"/><rect x="606" y="454" width="7" height="4" fill="#60a65c"/><rect x="617" y="428" width="1" height="18" fill="#d0413a"/><rect x="617" y="458" width="1" height="2" fill="#d0413a"/><rect x="614.5" y="446.5" width="6" height="11" fill="#fff" stroke="#d0413a" stroke-width="1"/><rect x="625" y="433" width="1" height="10" fill="#d0413a"/><rect x="625" y="446" width="1" height="14" fill="#d0413a"/><rect x="622.5" y="443.5" width="6" height="2" fill="#fff" stroke="#d0413a" stroke-width="1"/><rect x="633" y="420" width="1" height="3" fill="#d0413a"/><rect x="633" y="443" width="1" height="1" fill="#d0413a"/><rect x="630.5" y="423.5" width="6" height="19" fill="#fff" stroke="#d0413a" stroke-width="1"/><rect x="641" y="422" width="1" height="37" fill="#60a65c"/><rect x="638" y="428" width="7" height="27" fill="#60a65c"/><rect x="649" y="451" width="1" height="31" fill="#60a65c"/><rect x="646" y="455" width="7" height="24" fill="#60a65c"/><rect x="657" y="471" width="1" height="5" fill="#d0413a"/><rect x="657" y="480" width="1" height="9" fill="#d0413a"/><rect x="654.5" y="476.5" width="6" height="3" fill="#fff" stroke="#d0413a" stroke-width="1"/><rect x="665" y="474" width="1" height="5" fill="#60a65c"/><rect x="662" y="476" width="7" height="1" fill="#60a65c"/><rect x="673" y="463" width="1" height="6" fill="#d0413a"/><rect x="673" y="478" width="1" height="4" fill="#d0413a"/><rect x="670.5" y="469.5" width="6" height="8" fill="#fff" stroke="#d0413a" stroke-width="1"/><rect x="681" y="460" width="1" height="18" fill="#60a65c"/><rect x="678" y="469" width="7" height="3" fill="#60a65c"/><rect x="689" y="454" width="1" height="4" fill="#d0413a"/><rect x="689" y="473" width="1" height="3" fill="#d0413a"/><rect x="686.5" y="458.5" width="6" height="14" fill="#fff" stroke="#d0413a" stroke-width="1"/><rect x="697" y="438" width="1" height="16" fill="#d0413a"/><rect x="697" y="458" width="1" height="2" fill="#d0413a"/><rect x="694.5" y="454.5" width="6" height="3" fill="#fff" stroke="#d0413a" stroke-width="1"/><rect x="705" y="451" width="1" height="4" fill="#d0413a"/><rect x="702" y="453" width="7" height="2" fill="#d0413a"/><rect x="713" y="438" width="1" height="5" fill="#d0413a"/><rect x="713" y="454" width="1" height="8" fill="#d0413a"/><rect x="710.5" y="443.5" width="6" height="10" fill="#fff" stroke="#d0413a" stroke-width="1"/><rect x="721" y="413" width="1" height="42" fill="#60a65c"/><rect x="718" y="444" width="7" height="7" fill="#60a65c"/><rect x="729" y="429" width="1" height="3" fill="#d0413a"/><rect x="729" y="451" width="1" height="10" fill="#d0413a"/><rect x="726.5" y="432.5" width="6" height="18" fill="#fff" stroke="#d0413a" stroke-width="1"/><rect x="737" y="420" width="1" height="2" fill="#d0413a"/><rect x="737" y="431" width="1" height="7" fill="#d0413a"/><rect x="734.5" y="422.5" width="6" height="8" fill="#fff" stroke="#d0413a" stroke-width="1"/><rect x="745" y="404" width="1" height="9" fill="#d0413a"/><rect x="745" y="422" width="1" height="3" fill="#d0413a"/><rect x="742.5" y="413.5" width="6" height="8" fill="#fff" stroke="#d0413a" stroke-width="1"/><rect x="753" y="385" width="1" height="10" fill="#d0413a"/><rect x="753" y="413" width="1" height="1" fill="#d0413a"/><rect x="750.5" y="395.5" width="6" height="17" fill="#fff" stroke="#d0413a" stroke-width="1"/><rect x="761" y="386" width="1" height="40" fill="#60a65c"/><rect x="758" y="394" width="7" height="17" fill="#60a65c"/><rect x="769" y="388" width="1" height="4" fill="#d0413a"/><rect x="769" y="411" width="1" height="3" fill="#d0413a"/><rect x="766.5" y="392.5" width="6" height="18" fill="#fff" stroke="#d0413a" stroke-width="1"/><rect x="777" y="386" width="1" height="22" fill="#60a65c"/><rect x="774" y="391" width="7" height="8" fill="#60a65c"/><rect x="785" y="369" width="1" height="11" fill="#d0413a"/><rect x="785" y="399" width="1" height="1" fill="#d0413a"/><rect x="782.5" y="380.5" width="6" height="18" fill="#fff" stroke="#d0413a" stroke-width="1"/><rect x="793" y="370" width="1" height="22" fill="#d0413a"/><rect x="790" y="378" width="7" height="2" fill="#d0413a"/><rect x="801" y="369" width="1" height="34" fill="#60a65c"/><rect x="798" y="373" width="7" height="28" fill="#60a65c"/><rect x="809" y="393" width="1" height="63" fill="#60a65c"/><rect x="806" y="401" width="7" height="35" fill="#60a65c"/><rect x="817" y="412" width="1" height="8" fill="#d0413a"/><rect x="817" y="435" width="1" height="11" fill="#d0413a"/><rect x="814.5" y="420.5" width="6" height="14" fill="#fff" stroke="#d0413a" stroke-width="1"/><rect x="825" y="412" width="1" height="41" fill="#60a65c"/><rect x="822" y="419" width="7" height="34" fill="#60a65c"/><rect x="833" y="439" width="1" height="72" fill="#60a65c"/><rect x="830" y="453" width="7" height="57" fill="#60a65c"/><rect x="841" y="518" width="1" height="36" fill="#60a65c"/><rect x="838" y="531" width="7" height="8" fill="#60a65c"/><rect x="849" y="521" width="1" height="120" fill="#60a65c"/><rect x="846" y="539" width="7" height="89" fill="#60a65c"/><rect x="857" y="556" width="1" height="31" fill="#d0413a"/><rect x="854.5" y="587.5" width="6" height="40" fill="#fff" stroke="#d0413a" stroke-width="1"/><rect x="865" y="565" width="1" height="44" fill="#60a65c"/><rect x="862" y="587" width="7" height="13" fill="#60a65c"/><rect x="873" y="531" width="1" height="1" fill="#d0413a"/><rect x="873" y="600" width="1" height="2" fill="#d0413a"/><rect x="870.5" y="532.5" width="6" height="67" fill="#fff" stroke="#d0413a" stroke-width="1"/><rect x="881" y="490" width="1" height="10" fill="#d0413a"/><rect x="881" y="532" width="1" height="9" fill="#d0413a"/><rect x="878.5" y="500.5" width="6" height="31" fill="#fff" stroke="#d0413a" stroke-width="1"/><rect x="889" y="497" width="1" height="16" fill="#60a65c"/><rect x="886" y="500" width="7" height="8" fill="#60a65c"/></g>
<path d="M103 197h3v1h-3zM419 326h3v1h-3zM697 406h4v1h-4zM887 431h3v1h-3zM680 402h5v1h-5zM771 422h13v1h-13zM801 424h24v1h-24zM825 425h12v1h-12zM719 412h4v1h-4zM341 298h2v1h-2zM227 250h3v1h-3zM127 207h2v1h-2zM600 383h5v1h-5zM660 397h4v1h-4zM434 332h3v1h-3zM333 295h3v1h-3zM498 353h3v1h-3zM220 247h3v1h-3zM582 378h4v1h-4zM211 243h3v1h-3zM343 299h3v1h-3zM241 256h3v1h-3zM385 314h3v1h-3zM572 375h3v1h-3zM633 390h4v1h-4zM520 360h3v1h-3zM336 296h2v1h-2zM501 354h3v1h-3zM739 417h5v1h-5zM123 205h2v1h-2zM113 201h3v1h-3zM429 330h3v1h-3zM557 371h4v1h-4zM637 391h4v1h-4zM705 408h3v1h-3zM351 302h3v1h-3zM465 343h4v1h-4zM116 202h2v1h-2zM575 376h4v1h-4zM125 206h2v1h-2zM837 426h12v1h-12zM723 413h4v1h-4zM685 403h4v1h-4zM295 280h3v1h-3zM239 255h2v1h-2zM530 363h4v1h-4zM118 203h2v1h-2zM134 210h2v1h-2zM265 266h3v1h-3zM849 427h8v1h-8zM756 420h7v1h-7zM864 429h4v1h-4zM442 335h3v1h-3zM727 414h4v1h-4zM356 304h3v1h-3zM472 345h4v1h-4zM111 200h2v1h-2zM554 370h3v1h-3zM258 263h3v1h-3zM249 259h2v1h-2zM393 317h3v1h-3zM136 211h3v1h-3zM619 387h5v1h-5zM701 407h4v1h-4zM784 423h17v1h-17zM504 355h4v1h-4zM291 278h2v1h-2zM445 336h2v1h-2zM641 392h4v1h-4zM129 208h3v1h-3zM261 264h2v1h-2zM160 221h2v1h-2zM664 398h4v1h-4zM437 333h3v1h-3zM527 362h3v1h-3zM750 419h6v1h-6zM731 415h4v1h-4zM359 305h3v1h-3zM253 261h3v1h-3zM388 315h2v1h-2zM564 373h4v1h-4zM645 393h3v1h-3zM141 213h2v1h-2zM287 276h2v1h-2zM712 410h4v1h-4zM246 258h3v1h-3zM268 267h2v1h-2zM362 306h3v1h-3zM605 384h5v1h-5zM857 428h7v1h-7zM155 219h3v1h-3zM280 273h3v1h-3zM310 286h3v1h-3zM272 269h2v1h-2zM476 346h3v1h-3zM868 430h19v1h-19zM763 421h8v1h-8zM354 303h2v1h-2zM579 377h3v1h-3zM148 216h2v1h-2zM447 337h3v1h-3zM744 418h6v1h-6zM479 347h3v1h-3zM561 372h3v1h-3zM534 364h3v1h-3zM399 319h3v1h-3zM668 399h4v1h-4zM150 217h3v1h-3zM276 271h2v1h-2zM629 389h4v1h-4zM305 284h3v1h-3zM610 385h4v1h-4zM708 409h4v1h-4zM648 394h4v1h-4zM143 214h3v1h-3zM689 404h4v1h-4zM298 281h2v1h-2zM402 320h3v1h-3zM452 339h3v1h-3zM170 225h2v1h-2zM508 356h3v1h-3zM592 381h4v1h-4zM300 282h3v1h-3zM455 340h4v1h-4zM162 222h3v1h-3zM511 357h3v1h-3zM367 308h3v1h-3zM624 388h5v1h-5zM174 227h3v1h-3zM693 405h4v1h-4zM370 309h3v1h-3zM320 290h3v1h-3zM537 365h4v1h-4zM586 379h3v1h-3zM167 224h3v1h-3zM672 400h4v1h-4zM197 237h3v1h-3zM158 220h2v1h-2zM735 416h4v1h-4zM188 233h2v1h-2zM486 349h3v1h-3zM313 287h2v1h-2zM459 341h3v1h-3zM568 374h4v1h-4zM373 310h3v1h-3zM541 366h3v1h-3zM405 321h3v1h-3zM716 411h3v1h-3zM181 230h3v1h-3zM365 307h2v1h-2zM523 361h4v1h-4zM193 235h2v1h-2zM184 231h2v1h-2zM308 285h2v1h-2zM514 358h3v1h-3zM330 294h3v1h-3zM410 323h3v1h-3zM652 395h4v1h-4zM186 232h2v1h-2zM376 311h3v1h-3zM177 228h2v1h-2zM323 291h2v1h-2zM517 359h3v1h-3zM202 239h2v1h-2zM614 386h5v1h-5zM204 240h3v1h-3zM195 236h2v1h-2zM325 292h3v1h-3zM91 192h2v1h-2zM482 348h4v1h-4zM413 324h3v1h-3zM328 293h2v1h-2zM207 241h2v1h-2zM106 198h2v1h-2zM547 368h4v1h-4zM596 382h4v1h-4zM676 401h4v1h-4zM200 238h2v1h-2zM98 195h3v1h-3zM190 234h3v1h-3zM489 350h3v1h-3zM338 297h3v1h-3zM656 396h4v1h-4zM214 244h2v1h-2zM101 196h2v1h-2zM382 313h3v1h-3zM462 342h3v1h-3zM93 193h3v1h-3zM544 367h3v1h-3zM120 204h3v1h-3zM427 329h2v1h-2zM218 246h2v1h-2zM244 257h2v1h-2zM234 253h3v1h-3zM492 351h3v1h-3zM237 254h2v1h-2zM379 312h3v1h-3zM432 331h2v1h-2zM495 352h3v1h-3zM230 251h2v1h-2zM108 199h3v1h-3zM139 212h2v1h-2zM424 328h3v1h-3zM293 279h2v1h-2zM346 300h2v1h-2zM232 252h2v1h-2zM132 209h2v1h-2zM416 325h3v1h-3zM469 344h3v1h-3zM551 369h3v1h-3zM225 249h2v1h-2zM256 262h2v1h-2zM348 301h3v1h-3zM390 316h3v1h-3zM289 277h2v1h-2zM251 260h2v1h-2zM274 270h2v1h-2zM153 218h2v1h-2zM285 275h2v1h-2zM146 215h2v1h-2zM278 272h2v1h-2zM270 268h2v1h-2zM396 318h3v1h-3zM303 283h2v1h-2zM263 265h2v1h-2zM172 226h2v1h-2zM450 338h2v1h-2zM165 223h2v1h-2zM589 380h3v1h-3zM283 274h2v1h-2zM315 288h3v1h-3zM179 229h2v1h-2zM89 191h2v1h-2zM408 322h2v1h-2zM318 289h2v1h-2zM223 248h2v1h-2zM216 245h2v1h-2zM209 242h2v1h-2zM96 194h2v1h-2zM422 327h2v1h-2zM440 334h2v1h-2z" fill="#ff00ff" shape-rendering="crispEdges"/>
<path d="M426 437h5v1h-5zM873 437h2v1h-2zM576 389h6v1h-6zM623 389h11v1h-11zM127 470h12v1h-12zM156 470h12v1h-12zM203 470h9v1h-9zM254 470h19v1h-19zM92 466h24v1h-24zM299 466h5v1h-5zM123 469h4v1h-4zM168 469h35v1h-35zM273 469h14v1h-14zM525 398h2v1h-2zM706 398h12v1h-12zM139 471h17v1h-17zM212 471h4v1h-4zM241 471h13v1h-13zM365 454h3v1h-3zM519 400h3v1h-3zM733 400h13v1h-13zM468 422h3v1h-3zM849 422h2v1h-2zM588 387h27v1h-27zM389 446h3v1h-3zM399 443h4v1h-4zM888 443h2v1h-2zM466 423h2v1h-2zM851 423h2v1h-2zM538 394h8v1h-8zM663 394h13v1h-13zM509 403h3v1h-3zM761 403h6v1h-6zM569 390h7v1h-7zM634 390h10v1h-10zM435 435h3v1h-3zM869 435h2v1h-2zM221 473h12v1h-12zM554 392h8v1h-8zM649 392h5v1h-5zM473 420h2v1h-2zM355 457h4v1h-4zM310 464h12v1h-12zM839 416h2v1h-2zM484 414h2v1h-2zM835 414h2v1h-2zM503 405h3v1h-3zM773 405h11v1h-11zM89 465h3v1h-3zM304 465h6v1h-6zM516 401h3v1h-3zM746 401h8v1h-8zM499 407h2v1h-2zM795 407h6v1h-6zM421 438h5v1h-5zM875 438h2v1h-2zM407 441h4v1h-4zM882 441h3v1h-3zM496 408h3v1h-3zM801 408h6v1h-6zM512 402h4v1h-4zM754 402h7v1h-7zM533 395h5v1h-5zM676 395h11v1h-11zM582 388h6v1h-6zM615 388h8v1h-8zM216 472h5v1h-5zM233 472h8v1h-8zM362 455h3v1h-3zM562 391h7v1h-7zM644 391h5v1h-5zM530 396h3v1h-3zM687 396h8v1h-8zM385 447h4v1h-4zM522 399h3v1h-3zM718 399h15v1h-15zM490 411h2v1h-2zM823 411h5v1h-5zM546 393h8v1h-8zM654 393h9v1h-9zM492 410h2v1h-2zM815 410h8v1h-8zM461 425h3v1h-3zM854 425h2v1h-2zM116 467h4v1h-4zM293 467h6v1h-6zM368 453h2v1h-2zM411 440h5v1h-5zM879 440h3v1h-3zM431 436h4v1h-4zM871 436h2v1h-2zM444 432h2v1h-2zM864 432h2v1h-2zM348 459h4v1h-4zM446 431h2v1h-2zM416 439h5v1h-5zM877 439h2v1h-2zM477 418h2v1h-2zM395 444h4v1h-4zM373 451h3v1h-3zM482 415h2v1h-2zM837 415h2v1h-2zM494 409h2v1h-2zM807 409h8v1h-8zM322 463h13v1h-13zM442 433h2v1h-2zM438 434h4v1h-4zM867 434h2v1h-2zM450 429h3v1h-3zM488 412h2v1h-2zM828 412h4v1h-4zM501 406h2v1h-2zM784 406h11v1h-11zM403 442h4v1h-4zM885 442h3v1h-3zM379 449h3v1h-3zM479 417h2v1h-2zM841 417h2v1h-2zM448 430h2v1h-2zM861 430h2v1h-2zM486 413h2v1h-2zM832 413h3v1h-3zM339 461h5v1h-5zM527 397h3v1h-3zM695 397h11v1h-11zM120 468h3v1h-3zM287 468h6v1h-6zM344 460h4v1h-4zM506 404h3v1h-3zM767 404h6v1h-6zM453 428h3v1h-3zM858 428h2v1h-2zM392 445h3v1h-3zM464 424h2v1h-2zM376 450h3v1h-3zM475 419h2v1h-2zM844 419h2v1h-2zM352 458h3v1h-3zM382 448h3v1h-3zM471 421h2v1h-2zM847 421h2v1h-2zM359 456h3v1h-3zM458 426h3v1h-3zM370 452h3v1h-3zM335 462h4v1h-4zM456 427h2v1h-2zM846 420h1v1h-1zM481 416h1v1h-1zM863 431h1v1h-1zM843 418h1v1h-1zM866 433h1v1h-1zM860 429h1v1h-1zM853 424h1v1h-1zM856 426h1v1h-1zM857 427h1v1h-1z" fill="#000" shape-rendering="crispEdges"/>
<path d="M85 507.5h3M91 507.5h3M97 507.5h3M103 507.5h3M109 507.5h3M115 507.5h3M121 507.5h3M127 507.5h3M133 507.5h3M139 507.5h3M145 507.5h3M151 507.5h3M157 507.5h3M163 507.5h3M169 507.5h3M175 507.5h3M181 507.5h3M187 507.5h3M193 507.5h3M199 507.5h3M205 507.5h3M211 507.5h3M217 507.5h3M223 507.5h3M229 507.5h3M235 507.5h3M241 507.5h3M247 507.5h3M253 507.5h3M259 507.5h3M265 507.5h3M271 507.5h3M277 507.5h3M283 507.5h3M289 507.5h3M295 507.5h3M301 507.5h3M307 507.5h3M313 507.5h3M319 507.5h3M325 507.5h3M331 507.5h3M337 507.5h3M343 507.5h3M349 507.5h3M355 507.5h3M361 507.5h3M367 507.5h3M373 507.5h3M379 507.5h3M385 507.5h3M391 507.5h3M397 507.5h3M403 507.5h3M409 507.5h3M415 507.5h3M421 507.5h3M427 507.5h3M433 507.5h3M439 507.5h3M445 507.5h3M451 507.5h3M457 507.5h3M463 507.5h3M469 507.5h3M475 507.5h3M481 507.5h3M487 507.5h3M493 507.5h3M499 507.5h3M505 507.5h3M511 507.5h3M517 507.5h3M523 507.5h3M529 507.5h3M535 507.5h3M541 507.5h3M547 507.5h3M553 507.5h3M559 507.5h3M565 507.5h3M571 507.5h3M577 507.5h3M583 507.5h3M589 507.5h3M595 507.5h3M601 507.5h3M607 507.5h3M613 507.5h3M619 507.5h3M625 507.5h3M631 507.5h3M637 507.5h3M643 507.5h3M649 507.5h3M655 507.5h3M661 507.5h3M667 507.5h3M673 507.5h3M679 507.5h3M685 507.5h3M691 507.5h3M697 507.5h3M703 507.5h3M709 507.5h3M715 507.5h3M721 507.5h3M727 507.5h3M733 507.5h3M739 507.5h3M745 507.5h3M751 507.5h3M757 507.5h3M763 507.5h3M769 507.5h3M775 507.5h3M781 507.5h3M787 507.5h3M793 507.5h3M799 507.5h3M805 507.5h3M811 507.5h3M817 507.5h3M823 507.5h3M829 507.5h3M835 507.5h3M841 507.5h3M847 507.5h3M853 507.5h3M859 507.5h3M865 507.5h3M871 507.5h3M877 507.5h3M883 507.5h3M889 507.5h3M895 507.5h3M901 507.5h3M907 507.5h3M913 507.5h3M919 507.5h3M925 507.5h3M931 507.5h3M937 507.5h3M943 507.5h3M949 507.5h3M955 507.5h3M961 507.5h3M967 507.5h3M973 507.5h3M979 507.5h3M985 507.5h3" stroke="#0a80ff" stroke-width="1" fill="none" shape-rendering="crispEdges"/>
<path d="M95 595.5h7M97.5 593v4" stroke="#000" stroke-width="1" shape-rendering="crispEdges" fill="none"/>
<text x="102.20" y="606.80" font-size="12.3" fill="#6aa860" text-anchor="start" font-weight="bold" >96.2109</text>
<path d="M471 307.5h7M473.5 305v4" stroke="#000" stroke-width="1" shape-rendering="crispEdges" fill="none"/>
<text x="478.30" y="304.00" font-size="12.3" fill="#d04a3c" text-anchor="start" font-weight="bold" >100.3900</text>
<path d="M847 640.5h7M849.5 638v4" stroke="#000" stroke-width="1" shape-rendering="crispEdges" fill="none"/>
<text x="854.00" y="652.10" font-size="12.3" fill="#6aa860" text-anchor="start" font-weight="bold" >95.5660</text>
<g shape-rendering="crispEdges"><rect x="89" y="787" width="1" height="39" fill="#60a65c"/><rect x="97" y="787" width="1" height="35" fill="#60a65c"/><rect x="105" y="787" width="1" height="17" fill="#60a65c"/><rect x="113" y="782" width="1" height="6" fill="#d0413a"/><rect x="121" y="781" width="1" height="7" fill="#d0413a"/><rect x="129" y="782" width="1" height="6" fill="#d0413a"/><rect x="137" y="762" width="1" height="26" fill="#d0413a"/><rect x="145" y="734" width="1" height="54" fill="#d0413a"/><rect x="153" y="732" width="1" height="56" fill="#d0413a"/><rect x="161" y="743" width="1" height="45" fill="#d0413a"/><rect x="169" y="756" width="1" height="32" fill="#d0413a"/><rect x="177" y="768" width="1" height="20" fill="#d0413a"/><rect x="185" y="772" width="1" height="16" fill="#d0413a"/><rect x="193" y="780" width="1" height="8" fill="#d0413a"/><rect x="201" y="775" width="1" height="13" fill="#d0413a"/><rect x="209" y="758" width="1" height="30" fill="#d0413a"/><rect x="217" y="744" width="1" height="44" fill="#d0413a"/><rect x="225" y="725" width="1" height="63" fill="#d0413a"/><rect x="233" y="739" width="1" height="49" fill="#d0413a"/><rect x="241" y="739" width="1" height="49" fill="#d0413a"/><rect x="249" y="752" width="1" height="36" fill="#d0413a"/><rect x="257" y="776" width="1" height="12" fill="#d0413a"/><rect x="265" y="787" width="1" height="15" fill="#60a65c"/><rect x="273" y="787" width="1" height="23" fill="#60a65c"/><rect x="281" y="787" width="1" height="25" fill="#60a65c"/><rect x="289" y="787" width="1" height="15" fill="#60a65c"/><rect x="297" y="787" width="1" height="13" fill="#60a65c"/><rect x="305" y="787" width="1" height="10" fill="#60a65c"/><rect x="313" y="787" width="1" height="10" fill="#60a65c"/><rect x="321" y="787" width="1" height="13" fill="#60a65c"/><rect x="329" y="787" width="1" height="18" fill="#60a65c"/><rect x="337" y="787" width="1" height="8" fill="#60a65c"/><rect x="345" y="777" width="1" height="11" fill="#d0413a"/><rect x="353" y="765" width="1" height="23" fill="#d0413a"/><rect x="361" y="756" width="1" height="32" fill="#d0413a"/><rect x="369" y="747" width="1" height="41" fill="#d0413a"/><rect x="377" y="749" width="1" height="39" fill="#d0413a"/><rect x="385" y="769" width="1" height="19" fill="#d0413a"/><rect x="393" y="787" width="1" height="2" fill="#60a65c"/><rect x="401" y="787" width="1" height="12" fill="#60a65c"/><rect x="409" y="787" width="1" height="23" fill="#60a65c"/><rect x="417" y="787" width="1" height="29" fill="#60a65c"/><rect x="425" y="787" width="1" height="41" fill="#60a65c"/><rect x="433" y="787" width="1" height="42" fill="#60a65c"/><rect x="441" y="787" width="1" height="32" fill="#60a65c"/><rect x="449" y="787" width="1" height="23" fill="#60a65c"/><rect x="457" y="787" width="1" height="2" fill="#60a65c"/><rect x="465" y="774" width="1" height="14" fill="#d0413a"/><rect x="473" y="770" width="1" height="18" fill="#d0413a"/><rect x="481" y="770" width="1" height="18" fill="#d0413a"/><rect x="489" y="785" width="1" height="3" fill="#d0413a"/><rect x="497" y="787" width="1" height="16" fill="#60a65c"/><rect x="505" y="787" width="1" height="25" fill="#60a65c"/><rect x="513" y="787" width="1" height="30" fill="#60a65c"/><rect x="521" y="787" width="1" height="34" fill="#60a65c"/><rect x="529" y="787" width="1" height="37" fill="#60a65c"/><rect x="537" y="787" width="1" height="49" fill="#60a65c"/><rect x="545" y="787" width="1" height="45" fill="#60a65c"/><rect x="553" y="787" width="1" height="41" fill="#60a65c"/><rect x="561" y="787" width="1" height="32" fill="#60a65c"/><rect x="569" y="787" width="1" height="19" fill="#60a65c"/><rect x="577" y="787" width="1" height="28" fill="#60a65c"/><rect x="585" y="787" width="1" height="38" fill="#60a65c"/><rect x="593" y="787" width="1" height="38" fill="#60a65c"/><rect x="601" y="787" width="1" height="37" fill="#60a65c"/><rect x="609" y="787" width="1" height="33" fill="#60a65c"/><rect x="617" y="787" width="1" height="21" fill="#60a65c"/><rect x="625" y="787" width="1" height="9" fill="#60a65c"/><rect x="633" y="778" width="1" height="10" fill="#d0413a"/><rect x="641" y="782" width="1" height="6" fill="#d0413a"/><rect x="649" y="787" width="1" height="7" fill="#60a65c"/><rect x="657" y="787" width="1" height="9" fill="#60a65c"/><rect x="665" y="787" width="1" height="8" fill="#60a65c"/><rect x="673" y="787" width="1" height="2" fill="#60a65c"/><rect x="681" y="783" width="1" height="5" fill="#d0413a"/><rect x="689" y="773" width="1" height="15" fill="#d0413a"/><rect x="697" y="766" width="1" height="22" fill="#d0413a"/><rect x="705" y="762" width="1" height="26" fill="#d0413a"/><rect x="713" y="755" width="1" height="33" fill="#d0413a"/><rect x="721" y="757" width="1" height="31" fill="#d0413a"/><rect x="729" y="751" width="1" height="37" fill="#d0413a"/><rect x="737" y="746" width="1" height="42" fill="#d0413a"/><rect x="745" y="743" width="1" height="45" fill="#d0413a"/><rect x="753" y="737" width="1" height="51" fill="#d0413a"/><rect x="761" y="745" width="1" height="43" fill="#d0413a"/><rect x="769" y="745" width="1" height="43" fill="#d0413a"/><rect x="777" y="753" width="1" height="35" fill="#d0413a"/><rect x="785" y="752" width="1" height="36" fill="#d0413a"/><rect x="793" y="755" width="1" height="33" fill="#d0413a"/><rect x="801" y="771" width="1" height="17" fill="#d0413a"/><rect x="809" y="787" width="1" height="11" fill="#60a65c"/><rect x="817" y="787" width="1" height="19" fill="#60a65c"/><rect x="825" y="787" width="1" height="37" fill="#60a65c"/><rect x="833" y="787" width="1" height="69" fill="#60a65c"/><rect x="841" y="787" width="1" height="93" fill="#60a65c"/><rect x="849" y="787" width="1" height="135" fill="#60a65c"/><rect x="857" y="787" width="1" height="128" fill="#60a65c"/><rect x="865" y="787" width="1" height="109" fill="#60a65c"/><rect x="873" y="787" width="1" height="66" fill="#60a65c"/><rect x="881" y="787" width="1" height="16" fill="#60a65c"/><rect x="889" y="775" width="1" height="13" fill="#d0413a"/></g>
<path d="M93 830h3v1h-3zM589 830h2v1h-2zM623 830h2v1h-2zM661 830h6v1h-6zM274 762h2v1h-2zM759 762h3v1h-3zM320 768h2v1h-2zM336 768h2v1h-2zM519 791h2v1h-2zM238 730h2v1h-2zM245 730h5v1h-5zM370 730h2v1h-2zM117 812h13v1h-13zM546 812h2v1h-2zM564 812h2v1h-2zM785 752h2v1h-2zM432 782h3v1h-3zM96 831h2v1h-2zM591 831h2v1h-2zM621 831h2v1h-2zM276 763h2v1h-2zM287 763h20v1h-20zM755 763h4v1h-4zM280 765h3v1h-3zM311 765h4v1h-4zM715 797h4v1h-4zM103 826h2v1h-2zM647 826h2v1h-2zM675 826h2v1h-2zM430 781h2v1h-2zM435 781h4v1h-4zM633 820h4v1h-4zM787 751h4v1h-4zM794 751h2v1h-2zM322 769h2v1h-2zM334 769h2v1h-2zM374 728h2v1h-2zM89 828h2v1h-2zM586 828h2v1h-2zM651 828h4v1h-4zM669 828h3v1h-3zM537 809h2v1h-2zM783 753h2v1h-2zM797 753h2v1h-2zM550 814h2v1h-2zM557 814h5v1h-5zM691 814h2v1h-2zM174 775h2v1h-2zM741 775h2v1h-2zM315 766h2v1h-2zM475 755h4v1h-4zM229 733h5v1h-5zM677 825h3v1h-3zM153 770h10v1h-10zM324 770h2v1h-2zM332 770h2v1h-2zM192 780h2v1h-2zM428 780h2v1h-2zM439 780h6v1h-6zM176 776h10v1h-10zM199 776h2v1h-2zM643 823h2v1h-2zM598 835h2v1h-2zM614 835h2v1h-2zM278 764h2v1h-2zM283 764h4v1h-4zM307 764h4v1h-4zM753 764h2v1h-2zM163 771h4v1h-4zM326 771h2v1h-2zM330 771h2v1h-2zM811 771h2v1h-2zM91 829h2v1h-2zM99 829h2v1h-2zM655 829h6v1h-6zM667 829h2v1h-2zM600 836h3v1h-3zM612 836h2v1h-2zM376 727h2v1h-2zM269 758h2v1h-2zM467 758h2v1h-2zM767 758h2v1h-2zM637 821h5v1h-5zM713 798h2v1h-2zM594 833h2v1h-2zM618 833h2v1h-2zM317 767h3v1h-3zM861 892h2v1h-2zM225 734h4v1h-4zM509 784h2v1h-2zM469 757h3v1h-3zM769 757h9v1h-9zM552 815h5v1h-5zM188 778h2v1h-2zM522 793h2v1h-2zM680 824h2v1h-2zM711 799h2v1h-2zM472 756h3v1h-3zM778 756h2v1h-2zM190 779h2v1h-2zM194 779h2v1h-2zM426 779h2v1h-2zM445 779h5v1h-5zM596 834h2v1h-2zM616 834h2v1h-2zM465 759h2v1h-2zM765 759h2v1h-2zM167 772h3v1h-3zM328 772h2v1h-2zM240 729h5v1h-5zM372 729h2v1h-2zM527 796h2v1h-2zM719 796h3v1h-3zM113 813h4v1h-4zM548 813h2v1h-2zM562 813h2v1h-2zM170 773h2v1h-2zM186 777h2v1h-2zM197 777h2v1h-2zM423 777h2v1h-2zM236 731h2v1h-2zM381 731h2v1h-2zM707 802h2v1h-2zM603 837h4v1h-4zM610 837h2v1h-2zM479 754h3v1h-3zM781 754h2v1h-2zM799 754h2v1h-2zM525 795h2v1h-2zM539 810h4v1h-4zM568 810h2v1h-2zM607 838h3v1h-3zM172 774h2v1h-2zM419 774h2v1h-2zM815 774h2v1h-2zM543 811h3v1h-3zM566 811h2v1h-2zM695 811h2v1h-2zM791 750h3v1h-3zM762 761h2v1h-2zM234 732h2v1h-2zM703 805h2v1h-2zM699 808h2v1h-2zM517 790h2v1h-2zM649 827h2v1h-2zM672 827h3v1h-3zM514 788h2v1h-2zM98 830h1v1h-1zM840 829h1v3h-1zM209 762h1v1h-1zM342 762h1v1h-1zM409 762h1v1h-1zM462 762h1v1h-1zM489 762h1v1h-1zM805 762h1v1h-1zM205 768h1v2h-1zM414 768h1v1h-1zM457 768h1v1h-1zM494 768h1v1h-1zM749 768h1v1h-1zM808 767h1v2h-1zM140 790h1v2h-1zM725 791h1v2h-1zM826 791h1v3h-1zM223 738h1v2h-1zM256 739h1v1h-1zM362 739h1v1h-1zM389 739h1v1h-1zM380 730h1v1h-1zM571 812h1v1h-1zM694 812h1v1h-1zM833 810h1v3h-1zM216 752h1v2h-1zM264 752h1v2h-1zM351 752h1v1h-1zM399 751h1v2h-1zM796 752h1v1h-1zM143 782h1v3h-1zM507 782h1v1h-1zM734 782h1v1h-1zM821 782h1v1h-1zM208 763h1v2h-1zM341 763h1v2h-1zM410 763h1v1h-1zM461 763h1v2h-1zM490 763h1v1h-1zM806 763h1v2h-1zM132 806h1v2h-1zM536 807h1v2h-1zM701 807h1v1h-1zM832 807h1v3h-1zM207 765h1v2h-1zM340 765h1v1h-1zM411 764h1v2h-1zM460 765h1v1h-1zM491 764h1v2h-1zM752 765h1v1h-1zM807 765h1v2h-1zM137 797h1v2h-1zM529 797h1v1h-1zM828 796h1v3h-1zM584 826h1v1h-1zM628 826h1v1h-1zM838 824h1v3h-1zM845 852h1v6h-1zM883 854h1v2h-1zM144 780h1v2h-1zM506 781h1v1h-1zM735 781h1v1h-1zM820 780h1v2h-1zM136 799h1v2h-1zM531 800h1v1h-1zM710 800h1v1h-1zM829 799h1v3h-1zM108 820h1v2h-1zM579 820h1v1h-1zM685 820h1v1h-1zM836 818h1v3h-1zM217 750h1v2h-1zM263 750h1v2h-1zM352 751h1v1h-1zM218 748h1v2h-1zM262 748h1v2h-1zM354 749h1v1h-1zM397 749h1v1h-1zM415 769h1v2h-1zM456 769h1v2h-1zM495 769h1v2h-1zM748 769h1v1h-1zM809 769h1v1h-1zM378 728h1v1h-1zM141 787h1v3h-1zM513 787h1v1h-1zM729 787h1v1h-1zM824 787h1v2h-1zM355 747h1v2h-1zM396 748h1v1h-1zM101 828h1v1h-1zM626 828h1v1h-1zM839 827h1v2h-1zM110 817h1v2h-1zM577 818h1v1h-1zM687 818h1v1h-1zM131 808h1v2h-1zM698 809h1v1h-1zM350 753h1v1h-1zM400 753h1v1h-1zM842 836h1v6h-1zM112 814h1v2h-1zM573 814h1v1h-1zM834 813h1v3h-1zM148 775h1v1h-1zM201 775h1v1h-1zM421 775h1v1h-1zM452 775h1v1h-1zM500 775h1v1h-1zM817 775h1v1h-1zM339 766h1v1h-1zM412 766h1v1h-1zM459 766h1v1h-1zM492 766h1v1h-1zM751 766h1v1h-1zM214 755h1v1h-1zM266 755h1v1h-1zM349 754h1v2h-1zM402 755h1v1h-1zM482 755h1v1h-1zM780 755h1v1h-1zM801 755h1v1h-1zM535 806h1v1h-1zM702 806h1v1h-1zM831 805h1v2h-1zM251 732h1v2h-1zM367 733h1v1h-1zM384 733h1v1h-1zM105 825h1v1h-1zM583 825h1v1h-1zM629 824h1v2h-1zM646 825h1v1h-1zM849 874h1v3h-1zM875 874h1v2h-1zM204 770h1v1h-1zM747 770h1v1h-1zM810 770h1v1h-1zM505 780h1v1h-1zM736 780h1v1h-1zM147 776h1v1h-1zM422 776h1v1h-1zM451 776h1v1h-1zM501 776h1v1h-1zM740 776h1v1h-1zM818 776h1v2h-1zM106 823h1v2h-1zM581 822h1v2h-1zM630 823h1v1h-1zM682 823h1v1h-1zM837 821h1v3h-1zM109 819h1v1h-1zM578 819h1v1h-1zM686 819h1v1h-1zM841 832h1v4h-1zM152 771h1v1h-1zM203 771h1v2h-1zM416 771h1v1h-1zM455 771h1v1h-1zM496 771h1v1h-1zM746 771h1v1h-1zM852 880h1v2h-1zM872 881h1v2h-1zM516 789h1v1h-1zM727 789h1v1h-1zM825 789h1v2h-1zM588 829h1v1h-1zM625 829h1v1h-1zM255 737h1v2h-1zM363 738h1v1h-1zM388 738h1v1h-1zM212 758h1v1h-1zM346 758h1v1h-1zM405 758h1v1h-1zM485 758h1v1h-1zM803 758h1v2h-1zM850 877h1v2h-1zM874 876h1v3h-1zM580 821h1v1h-1zM632 821h1v1h-1zM684 821h1v1h-1zM530 798h1v2h-1zM847 863h1v5h-1zM878 865h1v3h-1zM848 868h1v6h-1zM877 868h1v3h-1zM206 767h1v1h-1zM338 767h1v1h-1zM413 767h1v1h-1zM458 767h1v1h-1zM493 767h1v1h-1zM750 767h1v1h-1zM867 891h1v2h-1zM252 734h1v1h-1zM366 734h1v1h-1zM385 734h1v1h-1zM732 784h1v1h-1zM822 783h1v2h-1zM213 756h1v2h-1zM268 757h1v1h-1zM347 757h1v1h-1zM404 757h1v1h-1zM484 757h1v1h-1zM802 756h1v2h-1zM574 815h1v1h-1zM690 815h1v1h-1zM224 736h1v2h-1zM254 736h1v1h-1zM365 735h1v2h-1zM387 736h1v2h-1zM145 778h1v2h-1zM196 778h1v1h-1zM425 778h1v1h-1zM450 777h1v2h-1zM503 778h1v1h-1zM738 778h1v1h-1zM819 778h1v2h-1zM139 792h1v3h-1zM724 793h1v1h-1zM582 824h1v1h-1zM645 824h1v1h-1zM267 756h1v1h-1zM348 756h1v1h-1zM403 756h1v1h-1zM483 756h1v1h-1zM504 779h1v1h-1zM737 779h1v1h-1zM844 847h1v5h-1zM887 846h1v2h-1zM221 742h1v2h-1zM259 743h1v2h-1zM359 742h1v2h-1zM392 743h1v1h-1zM211 759h1v1h-1zM271 759h1v1h-1zM345 759h1v1h-1zM406 759h1v1h-1zM486 759h1v1h-1zM151 772h1v1h-1zM417 772h1v1h-1zM454 772h1v1h-1zM497 772h1v1h-1zM745 772h1v1h-1zM813 772h1v1h-1zM220 744h1v2h-1zM358 744h1v1h-1zM393 744h1v1h-1zM379 729h1v1h-1zM508 783h1v1h-1zM733 783h1v1h-1zM138 795h1v2h-1zM572 813h1v1h-1zM693 813h1v1h-1zM364 737h1v1h-1zM150 773h1v1h-1zM202 773h1v2h-1zM418 773h1v1h-1zM453 773h1v2h-1zM498 773h1v1h-1zM744 773h1v1h-1zM814 773h1v1h-1zM146 777h1v1h-1zM502 777h1v1h-1zM739 777h1v1h-1zM250 731h1v1h-1zM369 731h1v1h-1zM135 801h1v2h-1zM532 801h1v2h-1zM830 802h1v3h-1zM134 803h1v2h-1zM534 804h1v2h-1zM705 804h1v1h-1zM873 879h1v2h-1zM851 879h1v1h-1zM882 856h1v2h-1zM886 848h1v2h-1zM854 883h1v2h-1zM871 883h1v2h-1zM879 863h1v2h-1zM215 754h1v1h-1zM265 754h1v1h-1zM401 754h1v1h-1zM222 740h1v2h-1zM258 741h1v2h-1zM360 741h1v1h-1zM391 741h1v2h-1zM855 885h1v1h-1zM870 885h1v2h-1zM722 795h1v1h-1zM827 794h1v2h-1zM130 810h1v2h-1zM697 810h1v1h-1zM856 886h1v2h-1zM869 887h1v2h-1zM524 794h1v1h-1zM723 794h1v1h-1zM149 774h1v1h-1zM499 774h1v1h-1zM743 774h1v1h-1zM219 746h1v2h-1zM261 747h1v1h-1zM395 746h1v2h-1zM570 811h1v1h-1zM353 750h1v1h-1zM398 750h1v1h-1zM142 785h1v2h-1zM511 785h1v1h-1zM731 785h1v1h-1zM823 785h1v2h-1zM210 760h1v2h-1zM273 761h1v1h-1zM343 761h1v1h-1zM408 761h1v1h-1zM463 761h1v1h-1zM488 761h1v1h-1zM804 760h1v2h-1zM709 801h1v1h-1zM368 732h1v1h-1zM383 732h1v1h-1zM107 822h1v1h-1zM631 822h1v1h-1zM642 822h1v1h-1zM683 822h1v1h-1zM133 805h1v1h-1zM257 740h1v1h-1zM361 740h1v1h-1zM390 740h1v1h-1zM111 816h1v1h-1zM575 816h1v1h-1zM689 816h1v1h-1zM835 816h1v2h-1zM260 745h1v2h-1zM356 746h1v1h-1zM726 790h1v1h-1zM512 786h1v1h-1zM730 786h1v1h-1zM843 842h1v5h-1zM889 842h1v2h-1zM102 827h1v1h-1zM585 827h1v1h-1zM627 827h1v1h-1zM728 788h1v1h-1zM853 882h1v1h-1zM846 858h1v5h-1zM880 860h1v3h-1zM857 888h1v1h-1zM357 745h1v1h-1zM394 745h1v1h-1zM888 844h1v2h-1zM881 858h1v2h-1zM858 889h1v1h-1zM868 889h1v2h-1zM272 760h1v1h-1zM344 760h1v1h-1zM407 760h1v1h-1zM464 760h1v1h-1zM487 760h1v1h-1zM764 760h1v1h-1zM225 735h1v1h-1zM253 735h1v1h-1zM386 735h1v1h-1zM860 891h1v1h-1zM533 803h1v1h-1zM706 803h1v1h-1zM884 852h1v2h-1zM864 894h1v1h-1zM866 893h1v2h-1zM876 871h1v3h-1zM863 893h1v1h-1zM576 817h1v1h-1zM688 817h1v1h-1zM521 792h1v1h-1zM859 890h1v1h-1zM593 832h1v1h-1zM620 832h1v1h-1zM885 850h1v2h-1zM865 895h1v1h-1z" fill="#000" shape-rendering="crispEdges"/>
<path d="M168 788h3v1h-3zM541 788h2v1h-2zM227 763h2v1h-2zM327 763h6v1h-6zM341 763h6v1h-6zM435 763h2v1h-2zM475 763h4v1h-4zM491 763h4v1h-4zM221 768h2v1h-2zM448 768h13v1h-13zM507 768h2v1h-2zM788 768h2v1h-2zM820 768h2v1h-2zM333 764h8v1h-8zM437 764h3v1h-3zM472 764h3v1h-3zM495 764h4v1h-4zM799 764h6v1h-6zM613 824h3v1h-3zM637 824h8v1h-8zM687 824h4v1h-4zM574 804h2v1h-2zM733 804h2v1h-2zM621 826h8v1h-8zM653 826h30v1h-30zM203 780h2v1h-2zM767 780h2v1h-2zM443 766h2v1h-2zM467 766h2v1h-2zM501 766h3v1h-3zM792 766h3v1h-3zM813 766h5v1h-5zM183 784h6v1h-6zM535 784h2v1h-2zM616 825h5v1h-5zM629 825h8v1h-8zM645 825h8v1h-8zM683 825h4v1h-4zM96 815h3v1h-3zM117 815h8v1h-8zM594 815h2v1h-2zM710 815h2v1h-2zM139 809h2v1h-2zM584 809h2v1h-2zM724 809h2v1h-2zM555 796h2v1h-2zM246 750h2v1h-2zM267 750h4v1h-4zM410 750h2v1h-2zM602 819h2v1h-2zM701 819h3v1h-3zM611 823h2v1h-2zM691 823h2v1h-2zM323 762h4v1h-4zM347 762h2v1h-2zM432 762h3v1h-3zM479 762h12v1h-12zM524 777h2v1h-2zM772 777h2v1h-2zM608 822h3v1h-3zM693 822h3v1h-3zM606 821h2v1h-2zM696 821h3v1h-3zM244 751h2v1h-2zM271 751h4v1h-4zM367 751h2v1h-2zM412 751h2v1h-2zM512 770h2v1h-2zM824 770h2v1h-2zM239 754h2v1h-2zM280 754h3v1h-3zM363 754h2v1h-2zM418 754h2v1h-2zM199 781h4v1h-4zM531 781h2v1h-2zM509 769h3v1h-3zM786 769h2v1h-2zM822 769h2v1h-2zM549 793h2v1h-2zM445 767h3v1h-3zM461 767h6v1h-6zM504 767h3v1h-3zM790 767h2v1h-2zM818 767h2v1h-2zM582 808h2v1h-2zM726 808h2v1h-2zM179 785h4v1h-4zM383 744h12v1h-12zM94 814h2v1h-2zM125 814h6v1h-6zM712 814h3v1h-3zM440 765h3v1h-3zM469 765h3v1h-3zM499 765h2v1h-2zM795 765h4v1h-4zM805 765h8v1h-8zM103 817h6v1h-6zM598 817h2v1h-2zM706 817h2v1h-2zM163 790h2v1h-2zM287 756h6v1h-6zM360 756h2v1h-2zM421 756h2v1h-2zM251 748h4v1h-4zM259 748h4v1h-4zM372 748h2v1h-2zM405 748h3v1h-3zM99 816h4v1h-4zM109 816h8v1h-8zM596 816h2v1h-2zM708 816h2v1h-2zM319 761h4v1h-4zM349 761h3v1h-3zM430 761h2v1h-2zM277 753h3v1h-3zM416 753h2v1h-2zM301 758h8v1h-8zM356 758h2v1h-2zM875 847h2v1h-2zM887 847h3v1h-3zM255 747h4v1h-4zM374 747h2v1h-2zM403 747h2v1h-2zM189 783h6v1h-6zM763 783h2v1h-2zM235 757h2v1h-2zM293 757h8v1h-8zM358 757h2v1h-2zM423 757h2v1h-2zM90 812h2v1h-2zM133 812h3v1h-3zM589 812h2v1h-2zM717 812h3v1h-3zM136 811h2v1h-2zM720 811h2v1h-2zM877 848h3v1h-3zM883 848h4v1h-4zM557 797h3v1h-3zM743 797h2v1h-2zM309 759h6v1h-6zM354 759h2v1h-2zM426 759h2v1h-2zM205 779h3v1h-3zM528 779h2v1h-2zM880 849h3v1h-3zM379 745h4v1h-4zM395 745h4v1h-4zM92 813h2v1h-2zM131 813h2v1h-2zM591 813h2v1h-2zM715 813h2v1h-2zM175 786h4v1h-4zM538 786h2v1h-2zM759 786h2v1h-2zM231 760h2v1h-2zM315 760h4v1h-4zM352 760h2v1h-2zM428 760h2v1h-2zM211 776h2v1h-2zM522 776h2v1h-2zM774 776h2v1h-2zM565 800h3v1h-3zM739 800h2v1h-2zM195 782h4v1h-4zM376 746h3v1h-3zM399 746h4v1h-4zM572 803h2v1h-2zM735 803h2v1h-2zM208 778h2v1h-2zM526 778h2v1h-2zM770 778h2v1h-2zM215 773h2v1h-2zM517 773h2v1h-2zM560 798h3v1h-3zM143 806h2v1h-2zM578 806h2v1h-2zM730 806h2v1h-2zM586 810h2v1h-2zM722 810h2v1h-2zM283 755h4v1h-4zM580 807h2v1h-2zM728 807h2v1h-2zM165 789h3v1h-3zM543 789h2v1h-2zM754 789h2v1h-2zM576 805h2v1h-2zM149 801h2v1h-2zM568 801h2v1h-2zM242 752h2v1h-2zM275 752h2v1h-2zM414 752h2v1h-2zM781 772h2v1h-2zM161 791h2v1h-2zM546 791h2v1h-2zM751 791h2v1h-2zM570 802h2v1h-2zM248 749h3v1h-3zM263 749h4v1h-4zM370 749h2v1h-2zM408 749h2v1h-2zM563 799h2v1h-2zM157 794h2v1h-2zM551 794h2v1h-2zM747 794h2v1h-2zM514 771h2v1h-2zM783 771h2v1h-2zM171 787h4v1h-4zM757 787h2v1h-2zM600 818h2v1h-2zM704 818h2v1h-2zM604 820h2v1h-2zM699 820h2v1h-2zM776 775h2v1h-2zM873 846h2v1h-2zM553 795h2v1h-2zM519 774h2v1h-2zM778 774h2v1h-2zM756 788h1v1h-1zM840 788h1v2h-1zM226 764h1v1h-1zM857 824h1v2h-1zM146 804h1v1h-1zM848 803h1v2h-1zM858 826h1v2h-1zM530 780h1v1h-1zM834 779h1v2h-1zM224 766h1v1h-1zM762 784h1v1h-1zM837 784h1v1h-1zM853 815h1v2h-1zM850 808h1v2h-1zM155 796h1v1h-1zM745 796h1v1h-1zM844 795h1v2h-1zM369 750h1v1h-1zM854 817h1v3h-1zM856 822h1v2h-1zM229 762h1v1h-1zM210 777h1v1h-1zM832 777h1v1h-1zM855 820h1v2h-1zM219 770h1v1h-1zM785 770h1v1h-1zM766 781h1v1h-1zM835 781h1v1h-1zM220 769h1v1h-1zM159 793h1v1h-1zM749 793h1v1h-1zM843 793h1v2h-1zM223 767h1v1h-1zM141 808h1v1h-1zM537 785h1v1h-1zM761 785h1v1h-1zM838 785h1v2h-1zM593 814h1v1h-1zM852 812h1v3h-1zM225 765h1v1h-1zM545 790h1v1h-1zM753 790h1v1h-1zM841 790h1v1h-1zM237 756h1v1h-1zM864 836h1v2h-1zM230 761h1v1h-1zM241 753h1v1h-1zM365 753h1v1h-1zM861 831h1v2h-1zM865 838h1v1h-1zM234 758h1v1h-1zM425 758h1v1h-1zM534 783h1v1h-1zM836 782h1v2h-1zM89 811h1v1h-1zM588 811h1v1h-1zM851 810h1v2h-1zM154 797h1v1h-1zM845 797h1v2h-1zM871 844h1v1h-1zM233 759h1v1h-1zM769 779h1v1h-1zM872 845h1v1h-1zM831 776h1v1h-1zM151 800h1v1h-1zM846 799h1v2h-1zM533 782h1v1h-1zM765 782h1v1h-1zM860 830h1v1h-1zM147 803h1v1h-1zM833 778h1v1h-1zM780 773h1v1h-1zM828 773h1v1h-1zM153 798h1v1h-1zM742 798h1v1h-1zM849 805h1v3h-1zM138 810h1v1h-1zM238 755h1v1h-1zM362 755h1v1h-1zM420 755h1v1h-1zM142 807h1v1h-1zM859 828h1v2h-1zM145 805h1v1h-1zM732 805h1v1h-1zM738 801h1v1h-1zM847 801h1v2h-1zM366 752h1v1h-1zM217 772h1v1h-1zM516 772h1v1h-1zM827 772h1v1h-1zM842 791h1v2h-1zM148 802h1v1h-1zM737 802h1v1h-1zM152 799h1v1h-1zM741 799h1v1h-1zM218 771h1v1h-1zM826 771h1v1h-1zM540 787h1v1h-1zM839 787h1v1h-1zM863 834h1v2h-1zM866 839h1v1h-1zM867 840h1v1h-1zM213 775h1v1h-1zM521 775h1v1h-1zM830 775h1v1h-1zM156 795h1v1h-1zM746 795h1v1h-1zM160 792h1v1h-1zM548 792h1v1h-1zM750 792h1v1h-1zM214 774h1v1h-1zM829 774h1v1h-1zM868 841h1v1h-1zM870 843h1v1h-1zM869 842h1v1h-1zM862 833h1v1h-1z" fill="#0000a0" shape-rendering="crispEdges"/>
<text x="86.00" y="34.60" font-size="12" fill="#000" stroke="#000" stroke-width="0.22">美元指数</text>
<text x="132.40" y="35.70" font-size="12" fill="#ff7f27" font-weight="bold">【</text>
<text x="146.30" y="35.10" font-size="12" fill="#ff7f27" letter-spacing="-0.9">日线</text>
<text x="170.60" y="35.70" font-size="12" fill="#ff7f27" font-weight="bold">】</text>
<g stroke="#ff7f27" stroke-width="0.9" fill="none"><circle cx="186.6" cy="32.4" r="4"/><path d="M182.6 32.4h8M186.6 28.4v8"/></g>
<rect x="199.5" y="22.5" width="11" height="11" fill="#fff" stroke="#1a1a8c" stroke-width="1"/><path d="M199 34.5h13M211.5 22v13" stroke="#1a1a8c" stroke-width="1" fill="none"/>
<polyline points="200.5,28.5 203,25 205.5,28 208,24.5 210.5,27" fill="none" stroke="#ff0000" stroke-width="1"/>
<polyline points="200.5,32 203,28.5 205.5,31.5 208,28 210.5,30.5" fill="none" stroke="#0000ff" stroke-width="1"/>
<text x="213.60" y="34.60" font-size="12" fill="#111" font-weight="normal" textLength="93.40" lengthAdjust="spacingAndGlyphs">MA1(50,0,200,0)</text>
<text x="311.30" y="34.60" font-size="12" fill="#111" font-weight="normal" textLength="81.70" lengthAdjust="spacingAndGlyphs">MA50:98.4122</text>
<text x="401.20" y="34.60" font-size="12" fill="#00009c" font-weight="normal" textLength="74.90" lengthAdjust="spacingAndGlyphs">MA0:97.4916</text>
<text x="484.00" y="34.60" font-size="12" fill="#ff00ff" font-weight="normal" textLength="88.60" lengthAdjust="spacingAndGlyphs">MA200:98.5997</text>
<text x="581.00" y="34.60" font-size="12" fill="#ff8000" font-weight="normal" textLength="74.50" lengthAdjust="spacingAndGlyphs">MA0:97.4916</text>
<text x="85.80" y="681.00" font-size="12" fill="#111" font-weight="normal" textLength="79.00" lengthAdjust="spacingAndGlyphs">MACD(13,8,9)</text>
<text x="169.20" y="681.00" font-size="12" fill="#111" font-weight="normal" textLength="70.60" lengthAdjust="spacingAndGlyphs">DIFF:-0.2237</text>
<text x="247.80" y="681.00" font-size="12" fill="#00009c" font-weight="normal" textLength="70.60" lengthAdjust="spacingAndGlyphs">DEA:-0.2489</text>
<text x="326.00" y="681.00" font-size="12" fill="#ff00ff" font-weight="normal" textLength="77.90" lengthAdjust="spacingAndGlyphs">MACD:0.0505</text>
<g><circle cx="22.7" cy="673.8" r="3.3" fill="#fff" stroke="#000" stroke-width="1.1"/><circle cx="22.7" cy="673.8" r="1.9" fill="#ff0000"/><path d="M22.7 667v2.2M22.7 678.4v2.2M15.9 673.8h2.2M27.3 673.8h2.2M17.9 669l1.5 1.5M27.5 669l-1.5 1.5M17.9 678.6l1.5 -1.5M27.5 678.6l-1.5 -1.5" stroke="#ff0000" stroke-width="1.1" fill="none"/></g>
<rect x="177" y="923" width="1" height="4" fill="#dde6ee"/>
<text x="179.30" y="935.20" font-size="12" fill="#1a1a22" text-anchor="start" font-weight="bold" >2025/10</text>
<rect x="361" y="923" width="1" height="4" fill="#dde6ee"/>
<text x="363.30" y="935.20" font-size="12" fill="#1a1a22" text-anchor="start" font-weight="bold" >2025/11</text>
<rect x="521" y="923" width="1" height="4" fill="#dde6ee"/>
<text x="523.30" y="935.20" font-size="12" fill="#1a1a22" text-anchor="start" font-weight="bold" >2025/12</text>
<rect x="705" y="923" width="1" height="4" fill="#dde6ee"/>
<text x="707.30" y="935.20" font-size="12" fill="#1a1a22" text-anchor="start" font-weight="bold" >2026/01</text>
<rect x="13.5" y="922.5" width="70" height="19" fill="#fff" stroke="#ccd4e0" stroke-width="1"/>
<text x="28.00" y="937.00" font-size="13" fill="#ff7a1a" font-weight="bold">日线</text>
<path d="M58 936.5l4.5 -8l4.5 8z" fill="#ff7a1a"/>
<rect x="98" y="939" width="190" height="1" fill="#e4e9f0"/>
<rect x="14" y="942" width="975" height="1" fill="#d0d8e3"/>
<rect x="14" y="942" width="39" height="5" fill="#ff6600"/>
<text x="22.50" y="953.60" font-size="11.6" fill="#fff" letter-spacing="0.6">指标</text><text x="63.00" y="953.80" font-size="11.6" fill="#111" letter-spacing="-0.4">模板</text><rect x="93" y="943" width="1" height="4" fill="#c8cfdc"/><rect x="151" y="943" width="1" height="4" fill="#c8cfdc"/><rect x="179" y="943" width="1" height="4" fill="#c8cfdc"/><rect x="219" y="943" width="1" height="4" fill="#c8cfdc"/><rect x="260" y="943" width="1" height="4" fill="#c8cfdc"/><rect x="294" y="943" width="1" height="4" fill="#c8cfdc"/><rect x="333" y="943" width="1" height="4" fill="#c8cfdc"/><rect x="368" y="943" width="1" height="4" fill="#c8cfdc"/><rect x="402" y="943" width="1" height="4" fill="#c8cfdc"/><rect x="442" y="943" width="1" height="4" fill="#c8cfdc"/><rect x="475" y="943" width="1" height="4" fill="#c8cfdc"/><rect x="503" y="943" width="1" height="4" fill="#c8cfdc"/><rect x="537" y="943" width="1" height="4" fill="#c8cfdc"/><rect x="577" y="943" width="1" height="4" fill="#c8cfdc"/><path d="M100.5 947L102.5 944.6H117.5" fill="none" stroke="#ff7a1a" stroke-width="1.3"/><text x="119.50" y="953.60" font-size="11.6" fill="#ff7a1a" letter-spacing="0.2">指标</text><text x="156.5" y="953.7" font-size="11" font-weight="bold" fill="#000" textLength="18.0" lengthAdjust="spacingAndGlyphs">VOL</text><text x="187.5" y="953.7" font-size="11" font-weight="bold" fill="#000" textLength="24.0" lengthAdjust="spacingAndGlyphs">MACD</text><text x="228.0" y="953.7" font-size="11" font-weight="bold" fill="#000" textLength="24.0" lengthAdjust="spacingAndGlyphs">BOLL</text><text x="268.5" y="953.7" font-size="11" font-weight="bold" fill="#000" textLength="18.0" lengthAdjust="spacingAndGlyphs">KDJ</text><text x="302.0" y="953.7" font-size="11" font-weight="bold" fill="#000" textLength="24.0" lengthAdjust="spacingAndGlyphs">MIKE</text><text x="342.0" y="953.7" font-size="11" font-weight="bold" fill="#000" textLength="18.0" lengthAdjust="spacingAndGlyphs">RSI</text><text x="376.5" y="953.7" font-size="11" font-weight="bold" fill="#000" textLength="18.0" lengthAdjust="spacingAndGlyphs">DMI</text><text x="410.5" y="953.7" font-size="11" font-weight="bold" fill="#000" textLength="24.0" lengthAdjust="spacingAndGlyphs">BIAS</text><text x="450.0" y="953.7" font-size="11" font-weight="bold" fill="#000" textLength="18.0" lengthAdjust="spacingAndGlyphs">CCI</text><text x="483.5" y="953.7" font-size="11" font-weight="bold" fill="#000" textLength="12.0" lengthAdjust="spacingAndGlyphs">WR</text><text x="511.5" y="953.7" font-size="11" font-weight="bold" fill="#000" textLength="18.0" lengthAdjust="spacingAndGlyphs">SAR</text><text x="545.50" y="953.20" font-size="11.6" fill="#111" letter-spacing="0.2">设置</text>
<text x="861.3" y="922" font-size="31.2" letter-spacing="1.3" fill="#bfa898" transform="translate(1 1)">FX678</text>
<text x="861.3" y="922" font-size="31.2" letter-spacing="1.3" fill="#dce8f6">FX678</text>
</svg>
</body></html>
